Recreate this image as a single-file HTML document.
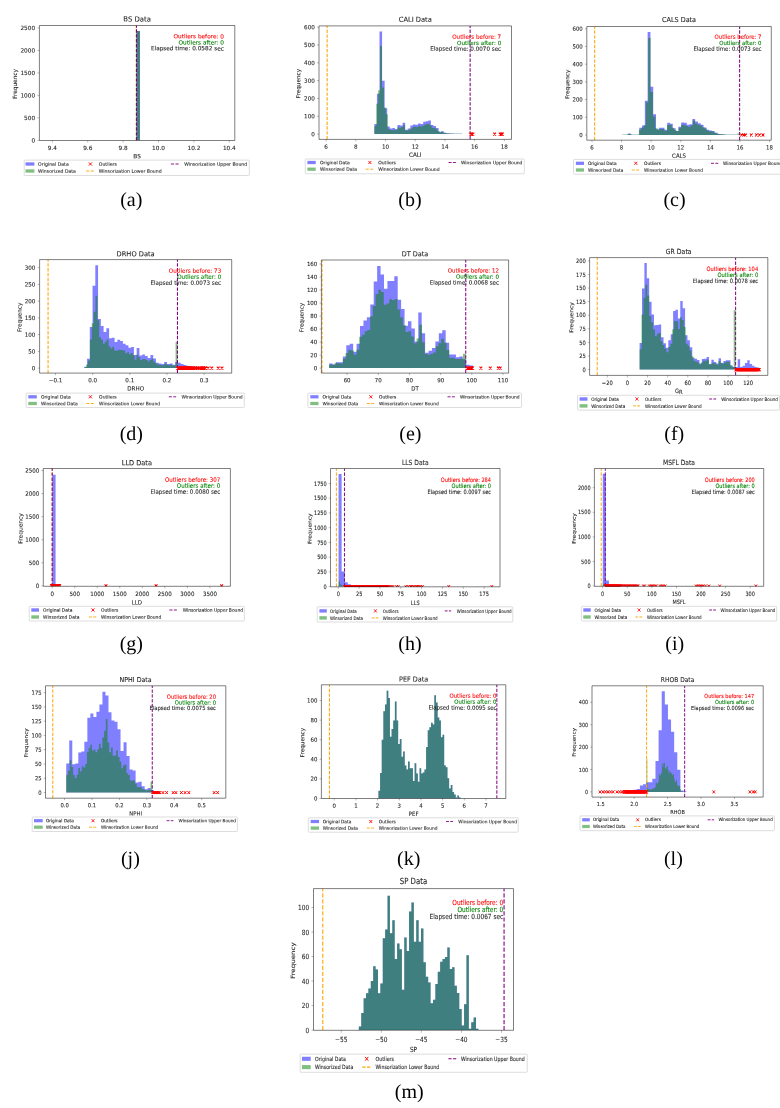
<!DOCTYPE html>
<html lang="en"><head><meta charset="utf-8"><title>Winsorization histograms</title>
<style>
html,body{margin:0;padding:0;background:#fff}
body{width:780px;height:1108px;overflow:hidden}
svg{display:block;font-family:"DejaVu Sans","Liberation Sans",sans-serif;text-rendering:geometricPrecision}
text{stroke-width:.1px}
.cap{stroke:none}
</style></head><body>
<svg width="780" height="1108" viewBox="0 0 780 1108">
<defs><filter id="soft" x="0" y="0" width="780" height="1108" filterUnits="userSpaceOnUse" color-interpolation-filters="sRGB"><feGaussianBlur stdDeviation="0.42"/></filter></defs>
<rect width="780" height="1108" fill="#fff"/>
<g filter="url(#soft)">
<g id="panel-a">
<clipPath id="ca"><rect x="39.4" y="25.5" width="195.4" height="115"/></clipPath>
<g clip-path="url(#ca)">
<path d="M136.4 140.3V30.92H139.94V140.3Z" fill="#0000ff" fill-opacity=".5"/>
<path d="M136.4 140.3V30.92H139.94V140.3Z" fill="#008000" fill-opacity=".5"/>
<path d="M136.31 140.5V25.5" stroke="#ffa500" stroke-width="1.10" stroke-dasharray="3.40 1.50" fill="none"/>
<path d="M136.49 140.5V25.5" stroke="#800080" stroke-width="1.10" stroke-dasharray="3.40 1.50" fill="none"/>
</g>
<path d="M39.4 25.5H234.8V140.5H39.4Z" stroke="#000" stroke-opacity=".5" stroke-width="1" fill="none"/>
<path d="M52.35 140.5v2M87.74 140.5v2M123.13 140.5v2M158.52 140.5v2M193.91 140.5v2M229.3 140.5v2M39.4 140.3h-2M39.4 117.84h-2M39.4 95.38h-2M39.4 72.92h-2M39.4 50.46h-2M39.4 28h-2" stroke="#000" stroke-opacity=".5" stroke-width=".55" fill="none"/>
<text transform="translate(52.35 149.88) rotate(0.03) scale(1.000 1)" font-size="5.77" text-anchor="middle" fill="#262626" stroke="#262626">9.4</text>
<text transform="translate(87.74 149.88) rotate(0.03) scale(1.000 1)" font-size="5.77" text-anchor="middle" fill="#262626" stroke="#262626">9.6</text>
<text transform="translate(123.13 149.88) rotate(0.03) scale(1.000 1)" font-size="5.77" text-anchor="middle" fill="#262626" stroke="#262626">9.8</text>
<text transform="translate(158.52 149.88) rotate(0.03) scale(1.000 1)" font-size="5.77" text-anchor="middle" fill="#262626" stroke="#262626">10.0</text>
<text transform="translate(193.91 149.88) rotate(0.03) scale(1.000 1)" font-size="5.77" text-anchor="middle" fill="#262626" stroke="#262626">10.2</text>
<text transform="translate(229.3 149.88) rotate(0.03) scale(1.000 1)" font-size="5.77" text-anchor="middle" fill="#262626" stroke="#262626">10.4</text>
<text transform="translate(35.1 142.38) rotate(0.03) scale(1.000 1)" font-size="5.77" text-anchor="end" fill="#262626" stroke="#262626">0</text>
<text transform="translate(35.1 119.92) rotate(0.03) scale(1.000 1)" font-size="5.77" text-anchor="end" fill="#262626" stroke="#262626">500</text>
<text transform="translate(35.1 97.46) rotate(0.03) scale(1.000 1)" font-size="5.77" text-anchor="end" fill="#262626" stroke="#262626">1000</text>
<text transform="translate(35.1 75) rotate(0.03) scale(1.000 1)" font-size="5.77" text-anchor="end" fill="#262626" stroke="#262626">1500</text>
<text transform="translate(35.1 52.54) rotate(0.03) scale(1.000 1)" font-size="5.77" text-anchor="end" fill="#262626" stroke="#262626">2000</text>
<text transform="translate(35.1 30.08) rotate(0.03) scale(1.000 1)" font-size="5.77" text-anchor="end" fill="#262626" stroke="#262626">2500</text>
<text transform="translate(137.1 158.18) rotate(0.03) scale(1.000 1)" font-size="5.77" text-anchor="middle" fill="#262626" stroke="#262626">BS</text>
<text transform="translate(17.08 84) rotate(-89.97) scale(1.000 1)" font-size="5.77" text-anchor="middle" fill="#262626" stroke="#262626">Frequency</text>
<text transform="translate(137.1 21.38) rotate(0.03) scale(1.000 1)" font-size="6.9" text-anchor="middle" fill="#262626" stroke="#262626">BS Data</text>
<text transform="translate(223.9 38.38) rotate(0.03) scale(1.000 1)" font-size="5.77" text-anchor="end" fill="#ff0000" stroke="#ff0000">Outliers before: 0</text>
<text transform="translate(223.9 44.58) rotate(0.03) scale(1.000 1)" font-size="5.77" text-anchor="end" fill="#008000" stroke="#008000">Outliers after: 0</text>
<text transform="translate(223.9 50.38) rotate(0.03) scale(1.000 1)" font-size="5.77" text-anchor="end" fill="#262626" stroke="#262626">Elapsed time: 0.0582 sec</text>
<rect x="24.2" y="160.1" width="225.1" height="15.4" rx=".8" fill="#fff" stroke="#d2d2d2" stroke-width=".75"/>
<rect x="25.5" y="162.35" width="8.9" height="3.3" fill="#0000ff" fill-opacity=".5"/>
<rect x="25.5" y="169.35" width="8.9" height="3.3" fill="#008000" fill-opacity=".5"/>
<text transform="translate(38.1 165.67) rotate(0.03) scale(1.000 1)" font-size="4.64" text-anchor="start" fill="#262626" stroke="#262626">Original Data</text>
<text transform="translate(38.1 172.67) rotate(0.03) scale(1.000 1)" font-size="4.64" text-anchor="start" fill="#262626" stroke="#262626">Winsorized Data</text>
<path d="M88.85 162.45l3.1 3.1m-3.1 0l3.1 -3.1" stroke="#ff0000" stroke-width="0.95" fill="none"/>
<path d="M86.1 171H94.7" stroke="#ffa500" stroke-width="0.90" stroke-dasharray="3.20 1.40" fill="none"/>
<text transform="translate(98.8 165.67) rotate(0.03) scale(1.000 1)" font-size="4.64" text-anchor="start" fill="#262626" stroke="#262626">Outliers</text>
<text transform="translate(98.8 172.67) rotate(0.03) scale(1.000 1)" font-size="4.64" text-anchor="start" fill="#262626" stroke="#262626">Winsorization Lower Bound</text>
<path d="M170.9 164H179.5" stroke="#800080" stroke-width="0.90" stroke-dasharray="3.20 1.40" fill="none"/>
<text transform="translate(184.2 165.67) rotate(0.03) scale(1.000 1)" font-size="4.64" text-anchor="start" fill="#262626" stroke="#262626">Winsorization Upper Bound</text>
<text x="131.3" y="206" class="cap" font-size="20" text-anchor="middle" fill="#000" font-family='"Liberation Serif","DejaVu Serif",serif'>(a)</text>
</g>
<g id="panel-b">
<clipPath id="cb"><rect x="319" y="25.9" width="192.5" height="113.5"/></clipPath>
<g clip-path="url(#cb)">
<path d="M374.36 134.1V123.94H376.93V93.83H379.5V31.48H382.07V80.83H384.64V108.27H387.21V126.44H389.78V128.58H392.35V128.04H394.91V129.11H397.48V125.01H400.05V125.55H402.62V122.7H405.19V129.65H407.76V128.58H410.33V125.55H412.9V124.48H415.47V124.84H418.04V123.41H420.61V123.94H423.17V121.81H425.74V121.27H428.31V120.38H430.88V125.01H433.45V126.08H436.02V128.04H438.59V131.78H441.16V131.25H443.73V132.67H446.3V133.21H448.86V133.39H451.43V133.57H454V133.74H456.57V133.74H459.14V133.74H461.71V133.92H464.28V133.92H466.85V134.1ZM469.42 134.1V133.92H471.99V133.74H474.56V134.1Z" fill="#0000ff" fill-opacity=".5"/>
<path d="M374.36 134.1V126.08H376.28V103.81H378.19V90.27H380.11V46.09H382.03V87.6H383.94V107.38H385.86V114.15H387.77V128.74H389.69V129.91H391.6V129.92H393.52V130.08H395.43V130.13H397.35V127.35H399.27V127.69H401.18V126.93H403.1V125.25H405.01V130.56H406.93V130.39H408.84V129.6H410.76V128.13H412.68V126.78H414.59V126.71H416.51V126.99H418.42V125.76H420.34V126.43H422.25V125.81H424.17V124.77H426.09V124.12H428V124.31H429.92V125.57H431.83V127.8H433.75V128.09H435.66V129.18H437.58V130.94H439.49V132.42H441.41V131.86H443.33V132.77H445.24V133.18H447.16V133.48H449.07V133.53H450.99V133.67H452.9V133.77H454.82V133.84H456.74V133.85H458.65V133.82H460.57V133.87H462.48V133.96H464.4V133.96H466.31V134.06H468.23V133.57H470.14V134.1Z" fill="#008000" fill-opacity=".5"/>
<path d="M327.14 139.4V25.9" stroke="#ffa500" stroke-width="1.07" stroke-dasharray="3.36 1.48" fill="none"/>
<path d="M470.14 139.4V25.9" stroke="#800080" stroke-width="1.07" stroke-dasharray="3.36 1.48" fill="none"/>
<path d="M469.48 132.62l2.82 2.96m-2.82 0l2.82 -2.96M470.22 132.62l2.82 2.96m-2.82 0l2.82 -2.96M471.41 132.62l2.82 2.96m-2.82 0l2.82 -2.96M493.24 132.62l2.82 2.96m-2.82 0l2.82 -2.96M498.73 132.62l2.82 2.96m-2.82 0l2.82 -2.96M499.92 132.62l2.82 2.96m-2.82 0l2.82 -2.96M500.96 132.62l2.82 2.96m-2.82 0l2.82 -2.96" stroke="#ff0000" stroke-width="1.07" fill="none"/>
</g>
<path d="M319 25.9H511.5V139.4H319Z" stroke="#000" stroke-opacity=".5" stroke-width="1" fill="none"/>
<path d="M326.1 139.4v1.97M355.8 139.4v1.97M385.5 139.4v1.97M415.2 139.4v1.97M444.9 139.4v1.97M474.6 139.4v1.97M504.3 139.4v1.97M319 134.1h-1.95M319 116.28h-1.95M319 98.47h-1.95M319 80.65h-1.95M319 62.83h-1.95M319 45.02h-1.95M319 27.2h-1.95" stroke="#000" stroke-opacity=".5" stroke-width=".55" fill="none"/>
<text transform="translate(326.1 148.66) rotate(0.03) scale(0.986 1)" font-size="5.69" text-anchor="middle" fill="#262626" stroke="#262626">6</text>
<text transform="translate(355.8 148.66) rotate(0.03) scale(0.986 1)" font-size="5.69" text-anchor="middle" fill="#262626" stroke="#262626">8</text>
<text transform="translate(385.5 148.66) rotate(0.03) scale(0.986 1)" font-size="5.69" text-anchor="middle" fill="#262626" stroke="#262626">10</text>
<text transform="translate(415.2 148.66) rotate(0.03) scale(0.986 1)" font-size="5.69" text-anchor="middle" fill="#262626" stroke="#262626">12</text>
<text transform="translate(444.9 148.66) rotate(0.03) scale(0.986 1)" font-size="5.69" text-anchor="middle" fill="#262626" stroke="#262626">14</text>
<text transform="translate(474.6 148.66) rotate(0.03) scale(0.986 1)" font-size="5.69" text-anchor="middle" fill="#262626" stroke="#262626">16</text>
<text transform="translate(504.3 148.66) rotate(0.03) scale(0.986 1)" font-size="5.69" text-anchor="middle" fill="#262626" stroke="#262626">18</text>
<text transform="translate(314.82 136.15) rotate(0.03) scale(0.986 1)" font-size="5.69" text-anchor="end" fill="#262626" stroke="#262626">0</text>
<text transform="translate(314.82 118.33) rotate(0.03) scale(0.986 1)" font-size="5.69" text-anchor="end" fill="#262626" stroke="#262626">100</text>
<text transform="translate(314.82 100.52) rotate(0.03) scale(0.986 1)" font-size="5.69" text-anchor="end" fill="#262626" stroke="#262626">200</text>
<text transform="translate(314.82 82.7) rotate(0.03) scale(0.986 1)" font-size="5.69" text-anchor="end" fill="#262626" stroke="#262626">300</text>
<text transform="translate(314.82 64.88) rotate(0.03) scale(0.986 1)" font-size="5.69" text-anchor="end" fill="#262626" stroke="#262626">400</text>
<text transform="translate(314.82 47.07) rotate(0.03) scale(0.986 1)" font-size="5.69" text-anchor="end" fill="#262626" stroke="#262626">500</text>
<text transform="translate(314.82 29.25) rotate(0.03) scale(0.986 1)" font-size="5.69" text-anchor="end" fill="#262626" stroke="#262626">600</text>
<text transform="translate(415.25 156.85) rotate(0.03) scale(0.986 1)" font-size="5.69" text-anchor="middle" fill="#262626" stroke="#262626">CALI</text>
<text transform="translate(300.32 83.64) rotate(-89.97) scale(1.014 1)" font-size="5.61" text-anchor="middle" fill="#262626" stroke="#262626">Frequency</text>
<text transform="translate(415.25 21.85) rotate(0.03) scale(0.986 1)" font-size="6.81" text-anchor="middle" fill="#262626" stroke="#262626">CALI Data</text>
<text transform="translate(501.2 38.85) rotate(0.03) scale(0.986 1)" font-size="5.69" text-anchor="end" fill="#ff0000" stroke="#ff0000">Outliers before: 7</text>
<text transform="translate(501.2 44.95) rotate(0.03) scale(0.986 1)" font-size="5.69" text-anchor="end" fill="#008000" stroke="#008000">Outliers after: 0</text>
<text transform="translate(501.2 50.65) rotate(0.03) scale(0.986 1)" font-size="5.69" text-anchor="end" fill="#262626" stroke="#262626">Elapsed time: 0.0070 sec</text>
<rect x="305.2" y="159" width="219.1" height="14.8" rx=".8" fill="#fff" stroke="#d2d2d2" stroke-width=".75"/>
<rect x="307.4" y="160.87" width="8.3" height="3.26" fill="#0000ff" fill-opacity=".5"/>
<rect x="307.4" y="167.57" width="8.3" height="3.26" fill="#008000" fill-opacity=".5"/>
<text transform="translate(320 164.15) rotate(0.03) scale(0.986 1)" font-size="4.58" text-anchor="start" fill="#262626" stroke="#262626">Original Data</text>
<text transform="translate(320 170.85) rotate(0.03) scale(0.986 1)" font-size="4.58" text-anchor="start" fill="#262626" stroke="#262626">Winsorized Data</text>
<path d="M368.39 160.97l3.02 3.06m-3.02 0l3.02 -3.06" stroke="#ff0000" stroke-width="0.92" fill="none"/>
<path d="M365.72 169.2H374.08" stroke="#ffa500" stroke-width="0.89" stroke-dasharray="3.11 1.36" fill="none"/>
<text transform="translate(378.2 164.15) rotate(0.03) scale(0.986 1)" font-size="4.58" text-anchor="start" fill="#262626" stroke="#262626">Outliers</text>
<text transform="translate(378.2 170.85) rotate(0.03) scale(0.986 1)" font-size="4.58" text-anchor="start" fill="#262626" stroke="#262626">Winsorization Lower Bound</text>
<path d="M448.5 162.5H455.9" stroke="#800080" stroke-width="0.89" stroke-dasharray="3.11 1.36" fill="none"/>
<text transform="translate(461 164.15) rotate(0.03) scale(0.986 1)" font-size="4.58" text-anchor="start" fill="#262626" stroke="#262626">Winsorization Upper Bound</text>
<text x="409.9" y="206" class="cap" font-size="20" text-anchor="middle" fill="#000" font-family='"Liberation Serif","DejaVu Serif",serif'>(b)</text>
</g>
<g id="panel-c">
<clipPath id="cc"><rect x="586.8" y="26.5" width="184.5" height="113.7"/></clipPath>
<g clip-path="url(#cc)">
<path d="M622.47 135V134.65H625.27V134.65H628.06V133.41H630.86V134.65H633.65V134.65H636.45V134.65H639.24V127.74H642.04V125.61H644.84V100.81H647.63V32.07H650.43V86.81H653.22V114.27H656.02V129.33H658.81V127.74H661.61V127.74H664.41V129.86H667.2V122.78H670V123.66H672.79V128.27H675.59V130.93H678.38V126.67H681.18V122.6H683.97V122.78H686.77V124.72H689.57V124.19H692.36V118.88H695.16V121.54H697.95V123.13H700.75V124.72H703.54V127.38H706.34V129.69H709.14V130.39H711.93V131.1H714.73V132.87H717.52V133.94H720.32V134.29H723.11V134.47H725.91V134.65H728.7V134.82H731.5V134.82H734.3V134.82H737.09V135ZM739.89 135V134.82H742.68V135Z" fill="#0000ff" fill-opacity=".5"/>
<path d="M622.47 135V134.71H624.81V134.72H627.16V134.11H629.5V134.13H631.84V134.69H634.19V134.71H636.53V134.71H638.87V129.7H641.21V127.72H643.56V125.26H645.9V102.22H648.24V38.09H650.59V91.95H652.93V116.4H655.27V128.27H657.62V129.69H659.96V129.01H662.3V128.94H664.64V130.9H666.99V125.08H669.33V124.81H671.67V127.68H674.02V129.78H676.36V131.08H678.7V127.75H681.05V124.84H683.39V124.86H685.73V125.97H688.07V126.83H690.42V125.59H692.76V120.56H695.1V123.61H697.45V124.82H699.79V125.33H702.13V127.16H704.48V128.61H706.82V130.64H709.16V131.29H711.5V131.43H713.85V132.77H716.19V133.55H718.53V134.17H720.88V134.37H723.22V134.53H725.56V134.67H727.91V134.81H730.25V134.86H732.59V134.85H734.93V134.86H737.28V133.58H739.62V135Z" fill="#008000" fill-opacity=".5"/>
<path d="M594.66 140.2V26.5" stroke="#ffa500" stroke-width="1.03" stroke-dasharray="3.36 1.48" fill="none"/>
<path d="M739.62 140.2V26.5" stroke="#800080" stroke-width="1.03" stroke-dasharray="3.36 1.48" fill="none"/>
<path d="M740.34 133.52l2.71 2.96m-2.71 0l2.71 -2.96M742.41 133.52l2.71 2.96m-2.71 0l2.71 -2.96M744.33 133.52l2.71 2.96m-2.71 0l2.71 -2.96M749.95 133.52l2.71 2.96m-2.71 0l2.71 -2.96M755.13 133.52l2.71 2.96m-2.71 0l2.71 -2.96M758.24 133.52l2.71 2.96m-2.71 0l2.71 -2.96M761.64 133.52l2.71 2.96m-2.71 0l2.71 -2.96" stroke="#ff0000" stroke-width="1.03" fill="none"/>
</g>
<path d="M586.8 26.5H771.3V140.2H586.8Z" stroke="#000" stroke-opacity=".5" stroke-width="1" fill="none"/>
<path d="M592 140.2v1.98M621.58 140.2v1.98M651.17 140.2v1.98M680.75 140.2v1.98M710.33 140.2v1.98M739.92 140.2v1.98M769.5 140.2v1.98M586.8 135h-1.87M586.8 117.28h-1.87M586.8 99.57h-1.87M586.8 81.85h-1.87M586.8 64.13h-1.87M586.8 46.42h-1.87M586.8 28.7h-1.87" stroke="#000" stroke-opacity=".5" stroke-width=".55" fill="none"/>
<text transform="translate(592 149.46) rotate(0.03) scale(0.945 1)" font-size="5.7" text-anchor="middle" fill="#262626" stroke="#262626">6</text>
<text transform="translate(621.58 149.46) rotate(0.03) scale(0.945 1)" font-size="5.7" text-anchor="middle" fill="#262626" stroke="#262626">8</text>
<text transform="translate(651.17 149.46) rotate(0.03) scale(0.945 1)" font-size="5.7" text-anchor="middle" fill="#262626" stroke="#262626">10</text>
<text transform="translate(680.75 149.46) rotate(0.03) scale(0.945 1)" font-size="5.7" text-anchor="middle" fill="#262626" stroke="#262626">12</text>
<text transform="translate(710.33 149.46) rotate(0.03) scale(0.945 1)" font-size="5.7" text-anchor="middle" fill="#262626" stroke="#262626">14</text>
<text transform="translate(739.92 149.46) rotate(0.03) scale(0.945 1)" font-size="5.7" text-anchor="middle" fill="#262626" stroke="#262626">16</text>
<text transform="translate(769.5 149.46) rotate(0.03) scale(0.945 1)" font-size="5.7" text-anchor="middle" fill="#262626" stroke="#262626">18</text>
<text transform="translate(582.78 137.05) rotate(0.03) scale(0.945 1)" font-size="5.7" text-anchor="end" fill="#262626" stroke="#262626">0</text>
<text transform="translate(582.78 119.34) rotate(0.03) scale(0.945 1)" font-size="5.7" text-anchor="end" fill="#262626" stroke="#262626">100</text>
<text transform="translate(582.78 101.62) rotate(0.03) scale(0.945 1)" font-size="5.7" text-anchor="end" fill="#262626" stroke="#262626">200</text>
<text transform="translate(582.78 83.9) rotate(0.03) scale(0.945 1)" font-size="5.7" text-anchor="end" fill="#262626" stroke="#262626">300</text>
<text transform="translate(582.78 66.19) rotate(0.03) scale(0.945 1)" font-size="5.7" text-anchor="end" fill="#262626" stroke="#262626">400</text>
<text transform="translate(582.78 48.47) rotate(0.03) scale(0.945 1)" font-size="5.7" text-anchor="end" fill="#262626" stroke="#262626">500</text>
<text transform="translate(582.78 30.75) rotate(0.03) scale(0.945 1)" font-size="5.7" text-anchor="end" fill="#262626" stroke="#262626">600</text>
<text transform="translate(679.05 157.67) rotate(0.03) scale(0.945 1)" font-size="5.7" text-anchor="middle" fill="#262626" stroke="#262626">CALS</text>
<text transform="translate(569.14 84.34) rotate(-89.97) scale(1.058 1)" font-size="5.39" text-anchor="middle" fill="#262626" stroke="#262626">Frequency</text>
<text transform="translate(679.05 22.05) rotate(0.03) scale(0.945 1)" font-size="6.82" text-anchor="middle" fill="#262626" stroke="#262626">CALS Data</text>
<text transform="translate(761.5 38.85) rotate(0.03) scale(0.945 1)" font-size="5.7" text-anchor="end" fill="#ff0000" stroke="#ff0000">Outliers before: 7</text>
<text transform="translate(761.5 44.95) rotate(0.03) scale(0.945 1)" font-size="5.7" text-anchor="end" fill="#008000" stroke="#008000">Outliers after: 0</text>
<text transform="translate(761.5 50.85) rotate(0.03) scale(0.945 1)" font-size="5.7" text-anchor="end" fill="#262626" stroke="#262626">Elapsed time: 0.0073 sec</text>
<rect x="573.5" y="159.4" width="210.2" height="14.8" rx=".8" fill="#fff" stroke="#d2d2d2" stroke-width=".75"/>
<rect x="575.9" y="161.67" width="8.1" height="3.26" fill="#0000ff" fill-opacity=".5"/>
<rect x="575.9" y="168.37" width="8.1" height="3.26" fill="#008000" fill-opacity=".5"/>
<text transform="translate(587.9 164.95) rotate(0.03) scale(0.945 1)" font-size="4.58" text-anchor="start" fill="#262626" stroke="#262626">Original Data</text>
<text transform="translate(587.9 171.65) rotate(0.03) scale(0.945 1)" font-size="4.58" text-anchor="start" fill="#262626" stroke="#262626">Winsorized Data</text>
<path d="M634.35 161.77l2.9 3.06m-2.9 0l2.9 -3.06" stroke="#ff0000" stroke-width="0.89" fill="none"/>
<path d="M631.78 170H639.82" stroke="#ffa500" stroke-width="0.89" stroke-dasharray="2.99 1.31" fill="none"/>
<text transform="translate(644.1 164.95) rotate(0.03) scale(0.945 1)" font-size="4.58" text-anchor="start" fill="#262626" stroke="#262626">Outliers</text>
<text transform="translate(644.1 171.65) rotate(0.03) scale(0.945 1)" font-size="4.58" text-anchor="start" fill="#262626" stroke="#262626">Winsorization Lower Bound</text>
<path d="M711 163.3H718.4" stroke="#800080" stroke-width="0.89" stroke-dasharray="2.99 1.31" fill="none"/>
<text transform="translate(723 164.95) rotate(0.03) scale(0.945 1)" font-size="4.58" text-anchor="start" fill="#262626" stroke="#262626">Winsorization Upper Bound</text>
<text x="674.5" y="206" class="cap" font-size="20" text-anchor="middle" fill="#000" font-family='"Liberation Serif","DejaVu Serif",serif'>(c)</text>
</g>
<g id="panel-d">
<clipPath id="cd"><rect x="39.6" y="259.6" width="192.1" height="113.5"/></clipPath>
<g clip-path="url(#cd)">
<path d="M84.29 368.1V366.76H87.05V358.73H89.8V326.94H92.56V285.77H95.32V265.36H98.07V318.9H100.83V325.93H103.59V331.96H106.34V328.27H109.1V338.31H111.86V337.65H114.61V342H117.37V339.65H120.13V340.99H122.88V343.67H125.64V345.34H128.4V347.69H131.15V347.02H133.91V355.05H136.67V348.02H139.42V355.38H142.18V354.38H144.93V356.05H147.69V358.06H150.45V355.05H153.2V358.39H155.96V362.75H158.72V363.41H161.47V364.08H164.23V362.08H166.99V364.08H169.74V363.41H172.5V364.75H175.26V362.08H178.01V362.75H180.77V364.08H183.53V365.09H186.28V365.76H189.04V366.09H191.8V366.43H194.55V366.76H197.31V367.1H200.07V367.1H202.82V368.1Z" fill="#0000ff" fill-opacity=".5"/>
<path d="M84.29 368.1V367.24H86.15V364.39H88.02V360.6H89.88V339.47H91.75V323.22H93.61V311.83H95.47V295.73H97.34V320.28H99.2V337.35H101.06V339.77H102.93V343.86H104.79V341.75H106.65V339.49H108.52V346.35H110.38V348.41H112.24V346.74H114.11V350.42H115.97V350.87H117.83V349.71H119.7V349.96H121.56V349.99H123.42V350.51H125.29V353.13H127.15V352.29H129.01V354.19H130.88V353.12H132.74V355.33H134.6V359.7H136.47V354.76H138.33V357.2H140.19V360.1H142.06V359H143.92V359H145.78V359.88H147.65V361.57H149.51V359.93H151.38V358.81H153.24V361.78H155.1V363.16H156.97V364.44H158.83V364.75H160.69V365.35H162.56V365.23H164.42V363.76H166.28V364.82H168.15V365.24H170.01V364.81H171.87V365.53H173.74V365.58H175.6V341.66H177.46V368.1Z" fill="#008000" fill-opacity=".5"/>
<path d="M48.07 373.1V259.6" stroke="#ffa500" stroke-width="1.07" stroke-dasharray="3.36 1.48" fill="none"/>
<path d="M177.46 373.1V259.6" stroke="#800080" stroke-width="1.07" stroke-dasharray="3.36 1.48" fill="none"/>
<path d="M176.32 366.62l2.81 2.96m-2.81 0l2.81 -2.96M176.61 366.62l2.81 2.96m-2.81 0l2.81 -2.96M176.91 366.62l2.81 2.96m-2.81 0l2.81 -2.96M177.21 366.62l2.81 2.96m-2.81 0l2.81 -2.96M177.5 366.62l2.81 2.96m-2.81 0l2.81 -2.96M177.8 366.62l2.81 2.96m-2.81 0l2.81 -2.96M178.09 366.62l2.81 2.96m-2.81 0l2.81 -2.96M178.39 366.62l2.81 2.96m-2.81 0l2.81 -2.96M178.68 366.62l2.81 2.96m-2.81 0l2.81 -2.96M178.98 366.62l2.81 2.96m-2.81 0l2.81 -2.96M179.28 366.62l2.81 2.96m-2.81 0l2.81 -2.96M179.57 366.62l2.81 2.96m-2.81 0l2.81 -2.96M179.87 366.62l2.81 2.96m-2.81 0l2.81 -2.96M180.16 366.62l2.81 2.96m-2.81 0l2.81 -2.96M180.46 366.62l2.81 2.96m-2.81 0l2.81 -2.96M180.75 366.62l2.81 2.96m-2.81 0l2.81 -2.96M181.05 366.62l2.81 2.96m-2.81 0l2.81 -2.96M181.35 366.62l2.81 2.96m-2.81 0l2.81 -2.96M181.64 366.62l2.81 2.96m-2.81 0l2.81 -2.96M181.94 366.62l2.81 2.96m-2.81 0l2.81 -2.96M182.23 366.62l2.81 2.96m-2.81 0l2.81 -2.96M182.53 366.62l2.81 2.96m-2.81 0l2.81 -2.96M182.82 366.62l2.81 2.96m-2.81 0l2.81 -2.96M183.12 366.62l2.81 2.96m-2.81 0l2.81 -2.96M183.41 366.62l2.81 2.96m-2.81 0l2.81 -2.96M183.71 366.62l2.81 2.96m-2.81 0l2.81 -2.96M184.01 366.62l2.81 2.96m-2.81 0l2.81 -2.96M184.3 366.62l2.81 2.96m-2.81 0l2.81 -2.96M184.6 366.62l2.81 2.96m-2.81 0l2.81 -2.96M184.89 366.62l2.81 2.96m-2.81 0l2.81 -2.96M185.19 366.62l2.81 2.96m-2.81 0l2.81 -2.96M185.48 366.62l2.81 2.96m-2.81 0l2.81 -2.96M185.78 366.62l2.81 2.96m-2.81 0l2.81 -2.96M186.08 366.62l2.81 2.96m-2.81 0l2.81 -2.96M186.37 366.62l2.81 2.96m-2.81 0l2.81 -2.96M186.67 366.62l2.81 2.96m-2.81 0l2.81 -2.96M186.96 366.62l2.81 2.96m-2.81 0l2.81 -2.96M187.26 366.62l2.81 2.96m-2.81 0l2.81 -2.96M187.55 366.62l2.81 2.96m-2.81 0l2.81 -2.96M187.85 366.62l2.81 2.96m-2.81 0l2.81 -2.96M188.15 366.62l2.81 2.96m-2.81 0l2.81 -2.96M188.44 366.62l2.81 2.96m-2.81 0l2.81 -2.96M188.74 366.62l2.81 2.96m-2.81 0l2.81 -2.96M189.03 366.62l2.81 2.96m-2.81 0l2.81 -2.96M189.33 366.62l2.81 2.96m-2.81 0l2.81 -2.96M189.62 366.62l2.81 2.96m-2.81 0l2.81 -2.96M189.92 366.62l2.81 2.96m-2.81 0l2.81 -2.96M190.22 366.62l2.81 2.96m-2.81 0l2.81 -2.96M190.51 366.62l2.81 2.96m-2.81 0l2.81 -2.96M190.81 366.62l2.81 2.96m-2.81 0l2.81 -2.96M192.11 366.62l2.81 2.96m-2.81 0l2.81 -2.96M193.59 366.62l2.81 2.96m-2.81 0l2.81 -2.96M194.52 366.62l2.81 2.96m-2.81 0l2.81 -2.96M196.19 366.62l2.81 2.96m-2.81 0l2.81 -2.96M197.68 366.62l2.81 2.96m-2.81 0l2.81 -2.96M198.61 366.62l2.81 2.96m-2.81 0l2.81 -2.96M199.91 366.62l2.81 2.96m-2.81 0l2.81 -2.96M201.39 366.62l2.81 2.96m-2.81 0l2.81 -2.96M202.69 366.62l2.81 2.96m-2.81 0l2.81 -2.96M204 366.62l2.81 2.96m-2.81 0l2.81 -2.96M206.63 366.62l2.81 2.96m-2.81 0l2.81 -2.96M210.35 366.62l2.81 2.96m-2.81 0l2.81 -2.96M216.81 366.62l2.81 2.96m-2.81 0l2.81 -2.96M220.53 366.62l2.81 2.96m-2.81 0l2.81 -2.96" stroke="#ff0000" stroke-width="1.07" fill="none"/>
</g>
<path d="M39.6 259.6H231.7V373.1H39.6Z" stroke="#000" stroke-opacity=".5" stroke-width="1" fill="none"/>
<path d="M55.5 373.1v1.97M92.65 373.1v1.97M129.8 373.1v1.97M166.95 373.1v1.97M204.1 373.1v1.97M39.6 368.1h-1.94M39.6 351.37h-1.94M39.6 334.63h-1.94M39.6 317.9h-1.94M39.6 301.17h-1.94M39.6 284.43h-1.94M39.6 267.7h-1.94" stroke="#000" stroke-opacity=".5" stroke-width=".55" fill="none"/>
<text transform="translate(55.5 382.36) rotate(0.03) scale(0.982 1)" font-size="5.69" text-anchor="middle" fill="#262626" stroke="#262626">−0.1</text>
<text transform="translate(92.65 382.36) rotate(0.03) scale(0.982 1)" font-size="5.69" text-anchor="middle" fill="#262626" stroke="#262626">0.0</text>
<text transform="translate(129.8 382.36) rotate(0.03) scale(0.982 1)" font-size="5.69" text-anchor="middle" fill="#262626" stroke="#262626">0.1</text>
<text transform="translate(166.95 382.36) rotate(0.03) scale(0.982 1)" font-size="5.69" text-anchor="middle" fill="#262626" stroke="#262626">0.2</text>
<text transform="translate(204.1 382.36) rotate(0.03) scale(0.982 1)" font-size="5.69" text-anchor="middle" fill="#262626" stroke="#262626">0.3</text>
<text transform="translate(35.43 370.15) rotate(0.03) scale(0.982 1)" font-size="5.69" text-anchor="end" fill="#262626" stroke="#262626">0</text>
<text transform="translate(35.43 353.42) rotate(0.03) scale(0.982 1)" font-size="5.69" text-anchor="end" fill="#262626" stroke="#262626">50</text>
<text transform="translate(35.43 336.68) rotate(0.03) scale(0.982 1)" font-size="5.69" text-anchor="end" fill="#262626" stroke="#262626">100</text>
<text transform="translate(35.43 319.95) rotate(0.03) scale(0.982 1)" font-size="5.69" text-anchor="end" fill="#262626" stroke="#262626">150</text>
<text transform="translate(35.43 303.22) rotate(0.03) scale(0.982 1)" font-size="5.69" text-anchor="end" fill="#262626" stroke="#262626">200</text>
<text transform="translate(35.43 286.48) rotate(0.03) scale(0.982 1)" font-size="5.69" text-anchor="end" fill="#262626" stroke="#262626">250</text>
<text transform="translate(35.43 269.75) rotate(0.03) scale(0.982 1)" font-size="5.69" text-anchor="end" fill="#262626" stroke="#262626">300</text>
<text transform="translate(135.65 390.55) rotate(0.03) scale(0.982 1)" font-size="5.69" text-anchor="middle" fill="#262626" stroke="#262626">DRHO</text>
<text transform="translate(21.61 317.34) rotate(-89.97) scale(1.019 1)" font-size="5.59" text-anchor="middle" fill="#262626" stroke="#262626">Frequency</text>
<text transform="translate(135.65 256.35) rotate(0.03) scale(0.982 1)" font-size="6.81" text-anchor="middle" fill="#262626" stroke="#262626">DRHO Data</text>
<text transform="translate(221.2 272.75) rotate(0.03) scale(0.982 1)" font-size="5.69" text-anchor="end" fill="#ff0000" stroke="#ff0000">Outliers before: 73</text>
<text transform="translate(221.2 278.85) rotate(0.03) scale(0.982 1)" font-size="5.69" text-anchor="end" fill="#008000" stroke="#008000">Outliers after: 0</text>
<text transform="translate(221.2 284.75) rotate(0.03) scale(0.982 1)" font-size="5.69" text-anchor="end" fill="#262626" stroke="#262626">Elapsed time: 0.0073 sec</text>
<rect x="26.1" y="393.1" width="218.2" height="14.4" rx=".8" fill="#fff" stroke="#d2d2d2" stroke-width=".75"/>
<rect x="28.3" y="395.17" width="8.5" height="3.26" fill="#0000ff" fill-opacity=".5"/>
<rect x="28.3" y="401.87" width="8.5" height="3.26" fill="#008000" fill-opacity=".5"/>
<text transform="translate(40.9 398.45) rotate(0.03) scale(0.982 1)" font-size="4.58" text-anchor="start" fill="#262626" stroke="#262626">Original Data</text>
<text transform="translate(40.9 405.15) rotate(0.03) scale(0.982 1)" font-size="4.58" text-anchor="start" fill="#262626" stroke="#262626">Winsorized Data</text>
<path d="M88.9 395.27l3 3.06m-3 0l3 -3.06" stroke="#ff0000" stroke-width="0.92" fill="none"/>
<path d="M86.23 403.5H94.57" stroke="#ffa500" stroke-width="0.89" stroke-dasharray="3.10 1.36" fill="none"/>
<text transform="translate(99.1 398.45) rotate(0.03) scale(0.982 1)" font-size="4.58" text-anchor="start" fill="#262626" stroke="#262626">Outliers</text>
<text transform="translate(99.1 405.15) rotate(0.03) scale(0.982 1)" font-size="4.58" text-anchor="start" fill="#262626" stroke="#262626">Winsorization Lower Bound</text>
<path d="M168.8 396.8H176.2" stroke="#800080" stroke-width="0.89" stroke-dasharray="3.10 1.36" fill="none"/>
<text transform="translate(181.4 398.45) rotate(0.03) scale(0.982 1)" font-size="4.58" text-anchor="start" fill="#262626" stroke="#262626">Winsorization Upper Bound</text>
<text x="131.3" y="439.8" class="cap" font-size="20" text-anchor="middle" fill="#000" font-family='"Liberation Serif","DejaVu Serif",serif'>(d)</text>
</g>
<g id="panel-e">
<clipPath id="ce"><rect x="321.4" y="260" width="187.2" height="113.1"/></clipPath>
<g clip-path="url(#ce)">
<path d="M329.17 368.1V363.55H332.6V364.2H336.02V362.24H339.45V362.24H342.88V356.39H346.3V345.33H349.73V343.7H353.16V351.83H356.58V343.7H360.01V326.07H363.44V320.6H366.87V317.35H370.29V304.6H373.72V281.57H377.15V265.95H380.57V274.41H384V288.72H387.43V280.92H390.85V280.92H394.28V276.36H397.71V299.78H401.13V308.89H404.56V325.81H407.99V321.25H411.41V328.41H414.84V341.42H418.27V312.41H421.69V333.29H425.12V352.75H428.55V350.86H431.97V347.93H435.4V341.42H438.83V333.29H442.25V330.36H445.68V342.73H449.11V354.44H452.53V354.44H455.96V357.36H459.39V356.39H462.81V359.25H466.24V364.85H469.67V365.5H473.09V368.1ZM497.08 368.1V366.8H500.51V368.1Z" fill="#0000ff" fill-opacity=".5"/>
<path d="M329.17 368.1V364.43H331.9V364.99H334.63V362.73H337.37V363.16H340.1V363.45H342.83V358.64H345.56V352.98H348.29V350.07H351.02V350.6H353.75V354.79H356.49V349.66H359.22V336.75H361.95V334.75H364.68V331.37H367.41V329.98H370.14V316.15H372.87V305.99H375.6V293.99H378.34V289.86H381.07V291.98H383.8V304.86H386.53V303.4H389.26V299.29H391.99V299.93H394.72V298.96H397.46V309.4H400.19V317.14H402.92V325.33H405.65V332.03H408.38V331.31H411.11V336.39H413.84V343.33H416.58V338.42H419.31V324.82H422.04V342.27H424.77V353.95H427.5V354.87H430.23V353.83H432.96V352.57H435.69V346.23H438.43V343.14H441.16V338.69H443.89V342.71H446.62V349.98H449.35V357.7H452.08V357.87H454.81V359.03H457.55V359.06H460.28V358.64H463.01V353.79H465.74V368.1Z" fill="#008000" fill-opacity=".5"/>
<path d="M322 373.1V260" stroke="#ffa500" stroke-width="1.04" stroke-dasharray="3.34 1.47" fill="none"/>
<path d="M465.74 373.1V260" stroke="#800080" stroke-width="1.04" stroke-dasharray="3.34 1.47" fill="none"/>
<path d="M465.77 366.63l2.75 2.95m-2.75 0l2.75 -2.95M466.7 366.63l2.75 2.95m-2.75 0l2.75 -2.95M467.64 366.63l2.75 2.95m-2.75 0l2.75 -2.95M468.57 366.63l2.75 2.95m-2.75 0l2.75 -2.95M469.51 366.63l2.75 2.95m-2.75 0l2.75 -2.95M470.44 366.63l2.75 2.95m-2.75 0l2.75 -2.95M471.07 366.63l2.75 2.95m-2.75 0l2.75 -2.95M470.13 366.63l2.75 2.95m-2.75 0l2.75 -2.95M479.49 366.63l2.75 2.95m-2.75 0l2.75 -2.95M488.84 366.63l2.75 2.95m-2.75 0l2.75 -2.95M496.95 366.63l2.75 2.95m-2.75 0l2.75 -2.95M498.82 366.63l2.75 2.95m-2.75 0l2.75 -2.95" stroke="#ff0000" stroke-width="1.04" fill="none"/>
</g>
<path d="M321.4 260H508.6V373.1H321.4Z" stroke="#000" stroke-opacity=".5" stroke-width="1" fill="none"/>
<path d="M347.1 373.1v1.97M378.28 373.1v1.97M409.46 373.1v1.97M440.64 373.1v1.97M471.82 373.1v1.97M503 373.1v1.97M321.4 368.1h-1.9M321.4 355.09h-1.9M321.4 342.08h-1.9M321.4 329.06h-1.9M321.4 316.05h-1.9M321.4 303.04h-1.9M321.4 290.02h-1.9M321.4 277.01h-1.9M321.4 264h-1.9" stroke="#000" stroke-opacity=".5" stroke-width=".55" fill="none"/>
<text transform="translate(347.1 382.32) rotate(0.03) scale(0.965 1)" font-size="5.67" text-anchor="middle" fill="#262626" stroke="#262626">60</text>
<text transform="translate(378.28 382.32) rotate(0.03) scale(0.965 1)" font-size="5.67" text-anchor="middle" fill="#262626" stroke="#262626">70</text>
<text transform="translate(409.46 382.32) rotate(0.03) scale(0.965 1)" font-size="5.67" text-anchor="middle" fill="#262626" stroke="#262626">80</text>
<text transform="translate(440.64 382.32) rotate(0.03) scale(0.965 1)" font-size="5.67" text-anchor="middle" fill="#262626" stroke="#262626">90</text>
<text transform="translate(471.82 382.32) rotate(0.03) scale(0.965 1)" font-size="5.67" text-anchor="middle" fill="#262626" stroke="#262626">100</text>
<text transform="translate(503 382.32) rotate(0.03) scale(0.965 1)" font-size="5.67" text-anchor="middle" fill="#262626" stroke="#262626">110</text>
<text transform="translate(317.32 370.14) rotate(0.03) scale(0.965 1)" font-size="5.67" text-anchor="end" fill="#262626" stroke="#262626">0</text>
<text transform="translate(317.32 357.13) rotate(0.03) scale(0.965 1)" font-size="5.67" text-anchor="end" fill="#262626" stroke="#262626">20</text>
<text transform="translate(317.32 344.12) rotate(0.03) scale(0.965 1)" font-size="5.67" text-anchor="end" fill="#262626" stroke="#262626">40</text>
<text transform="translate(317.32 331.1) rotate(0.03) scale(0.965 1)" font-size="5.67" text-anchor="end" fill="#262626" stroke="#262626">60</text>
<text transform="translate(317.32 318.09) rotate(0.03) scale(0.965 1)" font-size="5.67" text-anchor="end" fill="#262626" stroke="#262626">80</text>
<text transform="translate(317.32 305.08) rotate(0.03) scale(0.965 1)" font-size="5.67" text-anchor="end" fill="#262626" stroke="#262626">100</text>
<text transform="translate(317.32 292.07) rotate(0.03) scale(0.965 1)" font-size="5.67" text-anchor="end" fill="#262626" stroke="#262626">120</text>
<text transform="translate(317.32 279.05) rotate(0.03) scale(0.965 1)" font-size="5.67" text-anchor="end" fill="#262626" stroke="#262626">140</text>
<text transform="translate(317.32 266.04) rotate(0.03) scale(0.965 1)" font-size="5.67" text-anchor="end" fill="#262626" stroke="#262626">160</text>
<text transform="translate(415 390.48) rotate(0.03) scale(0.965 1)" font-size="5.67" text-anchor="middle" fill="#262626" stroke="#262626">DT</text>
<text transform="translate(303.47 317.53) rotate(-89.97) scale(1.036 1)" font-size="5.48" text-anchor="middle" fill="#262626" stroke="#262626">Frequency</text>
<text transform="translate(415 256.34) rotate(0.03) scale(0.965 1)" font-size="6.78" text-anchor="middle" fill="#262626" stroke="#262626">DT Data</text>
<text transform="translate(498.9 272.54) rotate(0.03) scale(0.965 1)" font-size="5.67" text-anchor="end" fill="#ff0000" stroke="#ff0000">Outliers before: 12</text>
<text transform="translate(498.9 278.64) rotate(0.03) scale(0.965 1)" font-size="5.67" text-anchor="end" fill="#008000" stroke="#008000">Outliers after: 0</text>
<text transform="translate(498.9 284.54) rotate(0.03) scale(0.965 1)" font-size="5.67" text-anchor="end" fill="#262626" stroke="#262626">Elapsed time: 0.0068 sec</text>
<rect x="307.9" y="393.1" width="213.6" height="14.4" rx=".8" fill="#fff" stroke="#d2d2d2" stroke-width=".75"/>
<rect x="310.3" y="395.18" width="8.2" height="3.24" fill="#0000ff" fill-opacity=".5"/>
<rect x="310.3" y="401.88" width="8.2" height="3.24" fill="#008000" fill-opacity=".5"/>
<text transform="translate(322.4 398.44) rotate(0.03) scale(0.965 1)" font-size="4.56" text-anchor="start" fill="#262626" stroke="#262626">Original Data</text>
<text transform="translate(322.4 405.14) rotate(0.03) scale(0.965 1)" font-size="4.56" text-anchor="start" fill="#262626" stroke="#262626">Winsorized Data</text>
<path d="M369.33 395.28l2.94 3.05m-2.94 0l2.94 -3.05" stroke="#ff0000" stroke-width="0.90" fill="none"/>
<path d="M366.72 403.5H374.88" stroke="#ffa500" stroke-width="0.88" stroke-dasharray="3.04 1.33" fill="none"/>
<text transform="translate(379.1 398.44) rotate(0.03) scale(0.965 1)" font-size="4.56" text-anchor="start" fill="#262626" stroke="#262626">Outliers</text>
<text transform="translate(379.1 405.14) rotate(0.03) scale(0.965 1)" font-size="4.56" text-anchor="start" fill="#262626" stroke="#262626">Winsorization Lower Bound</text>
<path d="M447.5 396.8H454.9" stroke="#800080" stroke-width="0.88" stroke-dasharray="3.04 1.33" fill="none"/>
<text transform="translate(459.9 398.44) rotate(0.03) scale(0.965 1)" font-size="4.56" text-anchor="start" fill="#262626" stroke="#262626">Winsorization Upper Bound</text>
<text x="410.4" y="439.8" class="cap" font-size="20" text-anchor="middle" fill="#000" font-family='"Liberation Serif","DejaVu Serif",serif'>(e)</text>
</g>
<g id="panel-f">
<clipPath id="cf"><rect x="589.6" y="257.6" width="178.2" height="117.8"/></clipPath>
<g clip-path="url(#cf)">
<path d="M639.61 369.6V342.97H642V288.62H644.39V263.07H646.79V278.29H649.18V301.66H651.57V314.43H653.97V325.3H656.36V325.03H658.75V324.49H661.15V337.26H663.54V343.24H665.93V347.86H668.33V340.25H670.72V334.27H673.11V310.9H675.51V309.81H677.9V318.51H680.29V301.12H682.69V308.18H685.08V335.36H687.47V340.25H689.87V347.32H692.26V357.64H694.65V358.73H697.05V360.09H699.44V363.62H701.83V359H704.23V358.73H706.62V357.1H709.01V364.17H711.4V359.82H713.8V361.99H716.19V363.62H718.58V358.19H720.98V363.08H723.37V361.12H725.76V360.36H728.16V360.36H730.55V365.8H732.94V366.88H735.34V366.88H737.73V359.27H740.12V366.88H742.52V365.8H744.91V363.08H747.3V360.36H749.7V363.89H752.09V365.8H754.48V366.88H756.88V367.43H759.27V369.6Z" fill="#0000ff" fill-opacity=".5"/>
<path d="M639.61 369.6V349.28H641.53V314.49H643.45V297.71H645.37V284.87H647.29V295.51H649.21V315.97H651.13V322.2H653.05V329.52H654.97V336.28H656.89V333.68H658.81V332.8H660.73V341.35H662.65V344.99H664.57V348.87H666.49V352.19H668.41V346.95H670.33V343.65H672.25V329.24H674.17V320.98H676.09V321.31H678.01V328.94H679.93V317.26H681.85V319.88H683.77V327.11H685.69V343.76H687.61V345.65H689.53V350.4H691.45V356.22H693.37V360.63H695.29V361.47H697.21V362.15H699.13V364.22H701.05V362.59H702.98V360.72H704.9V360.83H706.82V359.71H708.74V364.13H710.66V363.41H712.58V362.68H714.5V363.57H716.42V364.71H718.34V361.09H720.26V362.84H722.18V363.82H724.1V362.55H726.02V361.78H727.94V361.85H729.86V364.88H731.78V366.9H733.7V310.36H735.62V369.6Z" fill="#008000" fill-opacity=".5"/>
<path d="M597.24 375.4V257.6" stroke="#ffa500" stroke-width="0.99" stroke-dasharray="3.48 1.54" fill="none"/>
<path d="M735.62 375.4V257.6" stroke="#800080" stroke-width="0.99" stroke-dasharray="3.48 1.54" fill="none"/>
<path d="M734.62 368.06l2.6 3.07m-2.6 0l2.6 -3.07M734.88 368.06l2.6 3.07m-2.6 0l2.6 -3.07M735.15 368.06l2.6 3.07m-2.6 0l2.6 -3.07M735.41 368.06l2.6 3.07m-2.6 0l2.6 -3.07M735.67 368.06l2.6 3.07m-2.6 0l2.6 -3.07M735.93 368.06l2.6 3.07m-2.6 0l2.6 -3.07M736.2 368.06l2.6 3.07m-2.6 0l2.6 -3.07M736.46 368.06l2.6 3.07m-2.6 0l2.6 -3.07M736.72 368.06l2.6 3.07m-2.6 0l2.6 -3.07M736.98 368.06l2.6 3.07m-2.6 0l2.6 -3.07M737.25 368.06l2.6 3.07m-2.6 0l2.6 -3.07M737.51 368.06l2.6 3.07m-2.6 0l2.6 -3.07M737.77 368.06l2.6 3.07m-2.6 0l2.6 -3.07M738.03 368.06l2.6 3.07m-2.6 0l2.6 -3.07M738.29 368.06l2.6 3.07m-2.6 0l2.6 -3.07M738.56 368.06l2.6 3.07m-2.6 0l2.6 -3.07M738.82 368.06l2.6 3.07m-2.6 0l2.6 -3.07M739.08 368.06l2.6 3.07m-2.6 0l2.6 -3.07M739.34 368.06l2.6 3.07m-2.6 0l2.6 -3.07M739.61 368.06l2.6 3.07m-2.6 0l2.6 -3.07M739.87 368.06l2.6 3.07m-2.6 0l2.6 -3.07M740.13 368.06l2.6 3.07m-2.6 0l2.6 -3.07M740.39 368.06l2.6 3.07m-2.6 0l2.6 -3.07M740.66 368.06l2.6 3.07m-2.6 0l2.6 -3.07M740.92 368.06l2.6 3.07m-2.6 0l2.6 -3.07M741.18 368.06l2.6 3.07m-2.6 0l2.6 -3.07M741.44 368.06l2.6 3.07m-2.6 0l2.6 -3.07M741.71 368.06l2.6 3.07m-2.6 0l2.6 -3.07M741.97 368.06l2.6 3.07m-2.6 0l2.6 -3.07M742.23 368.06l2.6 3.07m-2.6 0l2.6 -3.07M742.49 368.06l2.6 3.07m-2.6 0l2.6 -3.07M742.75 368.06l2.6 3.07m-2.6 0l2.6 -3.07M743.02 368.06l2.6 3.07m-2.6 0l2.6 -3.07M743.28 368.06l2.6 3.07m-2.6 0l2.6 -3.07M743.54 368.06l2.6 3.07m-2.6 0l2.6 -3.07M743.8 368.06l2.6 3.07m-2.6 0l2.6 -3.07M744.07 368.06l2.6 3.07m-2.6 0l2.6 -3.07M744.33 368.06l2.6 3.07m-2.6 0l2.6 -3.07M744.59 368.06l2.6 3.07m-2.6 0l2.6 -3.07M744.85 368.06l2.6 3.07m-2.6 0l2.6 -3.07M745.12 368.06l2.6 3.07m-2.6 0l2.6 -3.07M745.38 368.06l2.6 3.07m-2.6 0l2.6 -3.07M745.64 368.06l2.6 3.07m-2.6 0l2.6 -3.07M745.9 368.06l2.6 3.07m-2.6 0l2.6 -3.07M746.17 368.06l2.6 3.07m-2.6 0l2.6 -3.07M746.43 368.06l2.6 3.07m-2.6 0l2.6 -3.07M746.69 368.06l2.6 3.07m-2.6 0l2.6 -3.07M746.95 368.06l2.6 3.07m-2.6 0l2.6 -3.07M747.21 368.06l2.6 3.07m-2.6 0l2.6 -3.07M747.48 368.06l2.6 3.07m-2.6 0l2.6 -3.07M747.74 368.06l2.6 3.07m-2.6 0l2.6 -3.07M748 368.06l2.6 3.07m-2.6 0l2.6 -3.07M748.26 368.06l2.6 3.07m-2.6 0l2.6 -3.07M748.53 368.06l2.6 3.07m-2.6 0l2.6 -3.07M748.79 368.06l2.6 3.07m-2.6 0l2.6 -3.07M749.05 368.06l2.6 3.07m-2.6 0l2.6 -3.07M749.31 368.06l2.6 3.07m-2.6 0l2.6 -3.07M749.58 368.06l2.6 3.07m-2.6 0l2.6 -3.07M749.84 368.06l2.6 3.07m-2.6 0l2.6 -3.07M750.1 368.06l2.6 3.07m-2.6 0l2.6 -3.07M750.36 368.06l2.6 3.07m-2.6 0l2.6 -3.07M750.62 368.06l2.6 3.07m-2.6 0l2.6 -3.07M750.89 368.06l2.6 3.07m-2.6 0l2.6 -3.07M751.15 368.06l2.6 3.07m-2.6 0l2.6 -3.07M751.41 368.06l2.6 3.07m-2.6 0l2.6 -3.07M751.67 368.06l2.6 3.07m-2.6 0l2.6 -3.07M751.94 368.06l2.6 3.07m-2.6 0l2.6 -3.07M752.2 368.06l2.6 3.07m-2.6 0l2.6 -3.07M752.46 368.06l2.6 3.07m-2.6 0l2.6 -3.07M752.72 368.06l2.6 3.07m-2.6 0l2.6 -3.07M752.99 368.06l2.6 3.07m-2.6 0l2.6 -3.07M753.25 368.06l2.6 3.07m-2.6 0l2.6 -3.07M753.51 368.06l2.6 3.07m-2.6 0l2.6 -3.07M753.77 368.06l2.6 3.07m-2.6 0l2.6 -3.07M754.04 368.06l2.6 3.07m-2.6 0l2.6 -3.07M754.3 368.06l2.6 3.07m-2.6 0l2.6 -3.07M754.56 368.06l2.6 3.07m-2.6 0l2.6 -3.07M754.82 368.06l2.6 3.07m-2.6 0l2.6 -3.07M755.08 368.06l2.6 3.07m-2.6 0l2.6 -3.07M755.35 368.06l2.6 3.07m-2.6 0l2.6 -3.07M755.61 368.06l2.6 3.07m-2.6 0l2.6 -3.07M755.87 368.06l2.6 3.07m-2.6 0l2.6 -3.07M756.13 368.06l2.6 3.07m-2.6 0l2.6 -3.07M756.4 368.06l2.6 3.07m-2.6 0l2.6 -3.07M756.66 368.06l2.6 3.07m-2.6 0l2.6 -3.07M756.92 368.06l2.6 3.07m-2.6 0l2.6 -3.07M757.18 368.06l2.6 3.07m-2.6 0l2.6 -3.07M757.45 368.06l2.6 3.07m-2.6 0l2.6 -3.07M757.71 368.06l2.6 3.07m-2.6 0l2.6 -3.07M757.97 368.06l2.6 3.07m-2.6 0l2.6 -3.07" stroke="#ff0000" stroke-width="0.99" fill="none"/>
</g>
<path d="M589.6 257.6H767.8V375.4H589.6Z" stroke="#000" stroke-opacity=".5" stroke-width="1" fill="none"/>
<path d="M607.3 375.4v2.05M627.43 375.4v2.05M647.56 375.4v2.05M667.69 375.4v2.05M687.81 375.4v2.05M707.94 375.4v2.05M728.07 375.4v2.05M748.2 375.4v2.05M589.6 369.6h-1.79M589.6 356.01h-1.79M589.6 342.43h-1.79M589.6 328.84h-1.79M589.6 315.25h-1.79M589.6 301.66h-1.79M589.6 288.07h-1.79M589.6 274.49h-1.79M589.6 260.9h-1.79" stroke="#000" stroke-opacity=".5" stroke-width=".55" fill="none"/>
<text transform="translate(607.3 385) rotate(0.03) scale(0.875 1)" font-size="5.91" text-anchor="middle" fill="#262626" stroke="#262626">−20</text>
<text transform="translate(627.43 385) rotate(0.03) scale(0.875 1)" font-size="5.91" text-anchor="middle" fill="#262626" stroke="#262626">0</text>
<text transform="translate(647.56 385) rotate(0.03) scale(0.875 1)" font-size="5.91" text-anchor="middle" fill="#262626" stroke="#262626">20</text>
<text transform="translate(667.69 385) rotate(0.03) scale(0.875 1)" font-size="5.91" text-anchor="middle" fill="#262626" stroke="#262626">40</text>
<text transform="translate(687.81 385) rotate(0.03) scale(0.875 1)" font-size="5.91" text-anchor="middle" fill="#262626" stroke="#262626">60</text>
<text transform="translate(707.94 385) rotate(0.03) scale(0.875 1)" font-size="5.91" text-anchor="middle" fill="#262626" stroke="#262626">80</text>
<text transform="translate(728.07 385) rotate(0.03) scale(0.875 1)" font-size="5.91" text-anchor="middle" fill="#262626" stroke="#262626">100</text>
<text transform="translate(748.2 385) rotate(0.03) scale(0.875 1)" font-size="5.91" text-anchor="middle" fill="#262626" stroke="#262626">120</text>
<text transform="translate(585.75 371.73) rotate(0.03) scale(0.875 1)" font-size="5.91" text-anchor="end" fill="#262626" stroke="#262626">0</text>
<text transform="translate(585.75 358.14) rotate(0.03) scale(0.875 1)" font-size="5.91" text-anchor="end" fill="#262626" stroke="#262626">25</text>
<text transform="translate(585.75 344.55) rotate(0.03) scale(0.875 1)" font-size="5.91" text-anchor="end" fill="#262626" stroke="#262626">50</text>
<text transform="translate(585.75 330.96) rotate(0.03) scale(0.875 1)" font-size="5.91" text-anchor="end" fill="#262626" stroke="#262626">75</text>
<text transform="translate(585.75 317.38) rotate(0.03) scale(0.875 1)" font-size="5.91" text-anchor="end" fill="#262626" stroke="#262626">100</text>
<text transform="translate(585.75 303.79) rotate(0.03) scale(0.875 1)" font-size="5.91" text-anchor="end" fill="#262626" stroke="#262626">125</text>
<text transform="translate(585.75 290.2) rotate(0.03) scale(0.875 1)" font-size="5.91" text-anchor="end" fill="#262626" stroke="#262626">150</text>
<text transform="translate(585.75 276.61) rotate(0.03) scale(0.875 1)" font-size="5.91" text-anchor="end" fill="#262626" stroke="#262626">175</text>
<text transform="translate(585.75 263.03) rotate(0.03) scale(0.875 1)" font-size="5.91" text-anchor="end" fill="#262626" stroke="#262626">200</text>
<text transform="translate(678.7 393.5) rotate(0.03) scale(0.875 1)" font-size="5.91" text-anchor="middle" fill="#262626" stroke="#262626">GR</text>
<text transform="translate(573.16 317.52) rotate(-89.97) scale(1.142 1)" font-size="5.17" text-anchor="middle" fill="#262626" stroke="#262626">Frequency</text>
<text transform="translate(678.7 254.04) rotate(0.03) scale(0.875 1)" font-size="7.07" text-anchor="middle" fill="#262626" stroke="#262626">GR Data</text>
<text transform="translate(758.2 270.83) rotate(0.03) scale(0.875 1)" font-size="5.91" text-anchor="end" fill="#ff0000" stroke="#ff0000">Outliers before: 104</text>
<text transform="translate(758.2 276.93) rotate(0.03) scale(0.875 1)" font-size="5.91" text-anchor="end" fill="#008000" stroke="#008000">Outliers after: 0</text>
<text transform="translate(758.2 282.83) rotate(0.03) scale(0.875 1)" font-size="5.91" text-anchor="end" fill="#262626" stroke="#262626">Elapsed time: 0.0078 sec</text>
<rect x="577.6" y="395.3" width="201.8" height="14.8" rx=".8" fill="#fff" stroke="#d2d2d2" stroke-width=".75"/>
<rect x="579.6" y="397.31" width="7.9" height="3.38" fill="#0000ff" fill-opacity=".5"/>
<rect x="579.6" y="404.21" width="7.9" height="3.38" fill="#008000" fill-opacity=".5"/>
<text transform="translate(591.2 400.71) rotate(0.03) scale(0.875 1)" font-size="4.75" text-anchor="start" fill="#262626" stroke="#262626">Original Data</text>
<text transform="translate(591.2 407.61) rotate(0.03) scale(0.875 1)" font-size="4.75" text-anchor="start" fill="#262626" stroke="#262626">Winsorized Data</text>
<path d="M635.51 397.41l2.78 3.17m-2.78 0l2.78 -3.17" stroke="#ff0000" stroke-width="0.85" fill="none"/>
<path d="M633.05 405.9H640.75" stroke="#ffa500" stroke-width="0.92" stroke-dasharray="2.87 1.26" fill="none"/>
<text transform="translate(645.1 400.71) rotate(0.03) scale(0.875 1)" font-size="4.75" text-anchor="start" fill="#262626" stroke="#262626">Outliers</text>
<text transform="translate(645.1 407.61) rotate(0.03) scale(0.875 1)" font-size="4.75" text-anchor="start" fill="#262626" stroke="#262626">Winsorization Lower Bound</text>
<path d="M709.2 399H716.2" stroke="#800080" stroke-width="0.92" stroke-dasharray="2.87 1.26" fill="none"/>
<text transform="translate(721.2 400.71) rotate(0.03) scale(0.875 1)" font-size="4.75" text-anchor="start" fill="#262626" stroke="#262626">Winsorization Upper Bound</text>
<text x="674.3" y="439.8" class="cap" font-size="20" text-anchor="middle" fill="#000" font-family='"Liberation Serif","DejaVu Serif",serif'>(f)</text>
</g>
<g id="panel-g">
<clipPath id="cg"><rect x="43.3" y="468.5" width="187.1" height="117.8"/></clipPath>
<g clip-path="url(#cg)">
<path d="M52.2 585.9V474.65H55.59V584.88H58.98V585.9Z" fill="#0000ff" fill-opacity=".5"/>
<path d="M52.2 585.9V584.52H52.2V584.52H52.2V584.52H52.2V584.52H52.2V584.52H52.2V584.52H52.21V584.52H52.21V584.52H52.21V584.52H52.21V584.52H52.21V584.52H52.21V584.52H52.21V584.52H52.21V584.52H52.21V584.52H52.21V584.52H52.21V584.52H52.22V584.52H52.22V584.52H52.22V584.52H52.22V584.52H52.22V584.52H52.22V584.52H52.22V584.52H52.22V584.52H52.22V584.52H52.22V584.52H52.22V584.52H52.23V584.52H52.23V584.52H52.23V584.52H52.23V584.52H52.23V584.52H52.23V584.52H52.23V584.52H52.23V584.52H52.23V584.52H52.23V584.52H52.23V584.52H52.24V584.52H52.24V584.52H52.24V584.52H52.24V584.52H52.24V584.52H52.24V584.52H52.24V584.52H52.24V584.52H52.24V584.52H52.24V584.52H52.24V584.52H52.25V585.9Z" fill="#008000" fill-opacity=".5"/>
<path d="M52.15 586.3V468.5" stroke="#ffa500" stroke-width="1.05" stroke-dasharray="3.48 1.54" fill="none"/>
<path d="M52.22 586.3V468.5" stroke="#800080" stroke-width="1.05" stroke-dasharray="3.48 1.54" fill="none"/>
<path d="M50.14 584.36l2.77 3.07m-2.77 0l2.77 -3.07M50.35 584.36l2.77 3.07m-2.77 0l2.77 -3.07M50.55 584.36l2.77 3.07m-2.77 0l2.77 -3.07M50.76 584.36l2.77 3.07m-2.77 0l2.77 -3.07M50.97 584.36l2.77 3.07m-2.77 0l2.77 -3.07M51.18 584.36l2.77 3.07m-2.77 0l2.77 -3.07M51.39 584.36l2.77 3.07m-2.77 0l2.77 -3.07M51.59 584.36l2.77 3.07m-2.77 0l2.77 -3.07M51.8 584.36l2.77 3.07m-2.77 0l2.77 -3.07M52.01 584.36l2.77 3.07m-2.77 0l2.77 -3.07M52.22 584.36l2.77 3.07m-2.77 0l2.77 -3.07M52.43 584.36l2.77 3.07m-2.77 0l2.77 -3.07M52.63 584.36l2.77 3.07m-2.77 0l2.77 -3.07M52.84 584.36l2.77 3.07m-2.77 0l2.77 -3.07M53.05 584.36l2.77 3.07m-2.77 0l2.77 -3.07M53.26 584.36l2.77 3.07m-2.77 0l2.77 -3.07M53.47 584.36l2.77 3.07m-2.77 0l2.77 -3.07M53.67 584.36l2.77 3.07m-2.77 0l2.77 -3.07M53.88 584.36l2.77 3.07m-2.77 0l2.77 -3.07M54.09 584.36l2.77 3.07m-2.77 0l2.77 -3.07M54.3 584.36l2.77 3.07m-2.77 0l2.77 -3.07M54.51 584.36l2.77 3.07m-2.77 0l2.77 -3.07M54.71 584.36l2.77 3.07m-2.77 0l2.77 -3.07M54.92 584.36l2.77 3.07m-2.77 0l2.77 -3.07M55.13 584.36l2.77 3.07m-2.77 0l2.77 -3.07M55.34 584.36l2.77 3.07m-2.77 0l2.77 -3.07M55.55 584.36l2.77 3.07m-2.77 0l2.77 -3.07M55.75 584.36l2.77 3.07m-2.77 0l2.77 -3.07M55.96 584.36l2.77 3.07m-2.77 0l2.77 -3.07M56.17 584.36l2.77 3.07m-2.77 0l2.77 -3.07M56.38 584.36l2.77 3.07m-2.77 0l2.77 -3.07M56.59 584.36l2.77 3.07m-2.77 0l2.77 -3.07M56.79 584.36l2.77 3.07m-2.77 0l2.77 -3.07M57 584.36l2.77 3.07m-2.77 0l2.77 -3.07M57.21 584.36l2.77 3.07m-2.77 0l2.77 -3.07M57.42 584.36l2.77 3.07m-2.77 0l2.77 -3.07M57.62 584.36l2.77 3.07m-2.77 0l2.77 -3.07M57.83 584.36l2.77 3.07m-2.77 0l2.77 -3.07M58.04 584.36l2.77 3.07m-2.77 0l2.77 -3.07M58.25 584.36l2.77 3.07m-2.77 0l2.77 -3.07M104.57 584.36l2.77 3.07m-2.77 0l2.77 -3.07M154.72 584.36l2.77 3.07m-2.77 0l2.77 -3.07M220.23 584.36l2.77 3.07m-2.77 0l2.77 -3.07" stroke="#ff0000" stroke-width="1.05" fill="none"/>
</g>
<path d="M43.3 468.5H230.4V586.3H43.3Z" stroke="#000" stroke-opacity=".5" stroke-width="1" fill="none"/>
<path d="M52.2 586.3v2.05M74.73 586.3v2.05M97.26 586.3v2.05M119.79 586.3v2.05M142.31 586.3v2.05M164.84 586.3v2.05M187.37 586.3v2.05M209.9 586.3v2.05M43.3 585.9h-1.91M43.3 562.82h-1.91M43.3 539.74h-1.91M43.3 516.66h-1.91M43.3 493.58h-1.91M43.3 470.5h-1.91" stroke="#000" stroke-opacity=".5" stroke-width=".55" fill="none"/>
<text transform="translate(52.2 595.9) rotate(0.03) scale(0.933 1)" font-size="5.91" text-anchor="middle" fill="#262626" stroke="#262626">0</text>
<text transform="translate(74.73 595.9) rotate(0.03) scale(0.933 1)" font-size="5.91" text-anchor="middle" fill="#262626" stroke="#262626">500</text>
<text transform="translate(97.26 595.9) rotate(0.03) scale(0.933 1)" font-size="5.91" text-anchor="middle" fill="#262626" stroke="#262626">1000</text>
<text transform="translate(119.79 595.9) rotate(0.03) scale(0.933 1)" font-size="5.91" text-anchor="middle" fill="#262626" stroke="#262626">1500</text>
<text transform="translate(142.31 595.9) rotate(0.03) scale(0.933 1)" font-size="5.91" text-anchor="middle" fill="#262626" stroke="#262626">2000</text>
<text transform="translate(164.84 595.9) rotate(0.03) scale(0.933 1)" font-size="5.91" text-anchor="middle" fill="#262626" stroke="#262626">2500</text>
<text transform="translate(187.37 595.9) rotate(0.03) scale(0.933 1)" font-size="5.91" text-anchor="middle" fill="#262626" stroke="#262626">3000</text>
<text transform="translate(209.9 595.9) rotate(0.03) scale(0.933 1)" font-size="5.91" text-anchor="middle" fill="#262626" stroke="#262626">3500</text>
<text transform="translate(39.19 588.03) rotate(0.03) scale(0.933 1)" font-size="5.91" text-anchor="end" fill="#262626" stroke="#262626">0</text>
<text transform="translate(39.19 564.95) rotate(0.03) scale(0.933 1)" font-size="5.91" text-anchor="end" fill="#262626" stroke="#262626">500</text>
<text transform="translate(39.19 541.87) rotate(0.03) scale(0.933 1)" font-size="5.91" text-anchor="end" fill="#262626" stroke="#262626">1000</text>
<text transform="translate(39.19 518.79) rotate(0.03) scale(0.933 1)" font-size="5.91" text-anchor="end" fill="#262626" stroke="#262626">1500</text>
<text transform="translate(39.19 495.71) rotate(0.03) scale(0.933 1)" font-size="5.91" text-anchor="end" fill="#262626" stroke="#262626">2000</text>
<text transform="translate(39.19 472.63) rotate(0.03) scale(0.933 1)" font-size="5.91" text-anchor="end" fill="#262626" stroke="#262626">2500</text>
<text transform="translate(136.85 604.4) rotate(0.03) scale(0.933 1)" font-size="5.91" text-anchor="middle" fill="#262626" stroke="#262626">LLD</text>
<text transform="translate(22.48 528.42) rotate(-89.97) scale(1.072 1)" font-size="5.51" text-anchor="middle" fill="#262626" stroke="#262626">Frequency</text>
<text transform="translate(136.85 465.14) rotate(0.03) scale(0.933 1)" font-size="7.07" text-anchor="middle" fill="#262626" stroke="#262626">LLD Data</text>
<text transform="translate(220.2 481.73) rotate(0.03) scale(0.933 1)" font-size="5.91" text-anchor="end" fill="#ff0000" stroke="#ff0000">Outliers before: 307</text>
<text transform="translate(220.2 487.83) rotate(0.03) scale(0.933 1)" font-size="5.91" text-anchor="end" fill="#008000" stroke="#008000">Outliers after: 0</text>
<text transform="translate(220.2 493.73) rotate(0.03) scale(0.933 1)" font-size="5.91" text-anchor="end" fill="#262626" stroke="#262626">Elapsed time: 0.0080 sec</text>
<rect x="29.2" y="606.3" width="215.1" height="14.7" rx=".8" fill="#fff" stroke="#d2d2d2" stroke-width=".75"/>
<rect x="31.3" y="608.31" width="7.7" height="3.38" fill="#0000ff" fill-opacity=".5"/>
<rect x="31.3" y="615.31" width="7.7" height="3.38" fill="#008000" fill-opacity=".5"/>
<text transform="translate(43.1 611.71) rotate(0.03) scale(0.933 1)" font-size="4.75" text-anchor="start" fill="#262626" stroke="#262626">Original Data</text>
<text transform="translate(43.1 618.71) rotate(0.03) scale(0.933 1)" font-size="4.75" text-anchor="start" fill="#262626" stroke="#262626">Winsorized Data</text>
<path d="M91.52 608.41l2.96 3.17m-2.96 0l2.96 -3.17" stroke="#ff0000" stroke-width="0.91" fill="none"/>
<path d="M88.89 617H97.11" stroke="#ffa500" stroke-width="0.92" stroke-dasharray="3.06 1.34" fill="none"/>
<text transform="translate(101 611.71) rotate(0.03) scale(0.933 1)" font-size="4.75" text-anchor="start" fill="#262626" stroke="#262626">Outliers</text>
<text transform="translate(101 618.71) rotate(0.03) scale(0.933 1)" font-size="4.75" text-anchor="start" fill="#262626" stroke="#262626">Winsorization Lower Bound</text>
<path d="M169.4 610H177.7" stroke="#800080" stroke-width="0.92" stroke-dasharray="3.06 1.34" fill="none"/>
<text transform="translate(182.7 611.71) rotate(0.03) scale(0.933 1)" font-size="4.75" text-anchor="start" fill="#262626" stroke="#262626">Winsorization Upper Bound</text>
<text x="131.3" y="649.8" class="cap" font-size="20" text-anchor="middle" fill="#000" font-family='"Liberation Serif","DejaVu Serif",serif'>(g)</text>
</g>
<g id="panel-h">
<clipPath id="ch"><rect x="330.5" y="468.5" width="169.5" height="118.3"/></clipPath>
<g clip-path="url(#ch)">
<path d="M338.55 586.6V474.07H341.62V571.46H344.68V582.18H347.75V584.36H350.81V585.13H353.88V585.54H356.95V586.6Z" fill="#0000ff" fill-opacity=".5"/>
<path d="M338.55 586.6V585.42H338.67V583.95H338.79V582.48H338.9V581H339.02V580.12H339.14V580H339.26V580.41H339.38V580.94H339.5V581.42H339.61V581.89H339.73V582.24H339.85V582.59H339.97V582.95H340.09V583.24H340.21V583.48H340.32V583.71H340.44V583.95H340.56V584.13H340.68V584.3H340.8V584.48H340.92V584.6H341.03V584.71H341.15V584.83H341.27V584.95H341.39V585.07H341.51V585.13H341.63V585.24H341.74V585.3H341.86V585.36H341.98V585.42H342.1V585.48H342.22V585.54H342.34V585.6H342.45V585.66H342.57V585.66H342.69V585.72H342.81V585.78H342.93V585.78H343.05V585.83H343.16V585.83H343.28V585.89H343.4V585.89H343.52V585.95H343.64V585.95H343.76V586.01H343.87V586.01H343.99V586.01H344.11V586.07H344.23V586.07H344.35V569.87H344.47V586.6Z" fill="#008000" fill-opacity=".5"/>
<path d="M336.38 586.8V468.5" stroke="#ffa500" stroke-width="0.96" stroke-dasharray="3.50 1.54" fill="none"/>
<path d="M344.47 586.8V468.5" stroke="#800080" stroke-width="0.96" stroke-dasharray="3.50 1.54" fill="none"/>
<path d="M343.37 585.06l2.52 3.09m-2.52 0l2.52 -3.09M343.86 585.06l2.52 3.09m-2.52 0l2.52 -3.09M344.35 585.06l2.52 3.09m-2.52 0l2.52 -3.09M344.84 585.06l2.52 3.09m-2.52 0l2.52 -3.09M345.33 585.06l2.52 3.09m-2.52 0l2.52 -3.09M345.82 585.06l2.52 3.09m-2.52 0l2.52 -3.09M346.31 585.06l2.52 3.09m-2.52 0l2.52 -3.09M346.81 585.06l2.52 3.09m-2.52 0l2.52 -3.09M347.3 585.06l2.52 3.09m-2.52 0l2.52 -3.09M347.79 585.06l2.52 3.09m-2.52 0l2.52 -3.09M348.28 585.06l2.52 3.09m-2.52 0l2.52 -3.09M348.77 585.06l2.52 3.09m-2.52 0l2.52 -3.09M349.26 585.06l2.52 3.09m-2.52 0l2.52 -3.09M349.75 585.06l2.52 3.09m-2.52 0l2.52 -3.09M350.24 585.06l2.52 3.09m-2.52 0l2.52 -3.09M350.73 585.06l2.52 3.09m-2.52 0l2.52 -3.09M351.22 585.06l2.52 3.09m-2.52 0l2.52 -3.09M351.71 585.06l2.52 3.09m-2.52 0l2.52 -3.09M352.2 585.06l2.52 3.09m-2.52 0l2.52 -3.09M352.69 585.06l2.52 3.09m-2.52 0l2.52 -3.09M353.18 585.06l2.52 3.09m-2.52 0l2.52 -3.09M353.67 585.06l2.52 3.09m-2.52 0l2.52 -3.09M354.16 585.06l2.52 3.09m-2.52 0l2.52 -3.09M354.65 585.06l2.52 3.09m-2.52 0l2.52 -3.09M355.14 585.06l2.52 3.09m-2.52 0l2.52 -3.09M355.63 585.06l2.52 3.09m-2.52 0l2.52 -3.09M356.13 585.06l2.52 3.09m-2.52 0l2.52 -3.09M356.62 585.06l2.52 3.09m-2.52 0l2.52 -3.09M357.11 585.06l2.52 3.09m-2.52 0l2.52 -3.09M357.6 585.06l2.52 3.09m-2.52 0l2.52 -3.09M358.09 585.06l2.52 3.09m-2.52 0l2.52 -3.09M358.58 585.06l2.52 3.09m-2.52 0l2.52 -3.09M359.07 585.06l2.52 3.09m-2.52 0l2.52 -3.09M359.56 585.06l2.52 3.09m-2.52 0l2.52 -3.09M360.05 585.06l2.52 3.09m-2.52 0l2.52 -3.09M360.54 585.06l2.52 3.09m-2.52 0l2.52 -3.09M361.03 585.06l2.52 3.09m-2.52 0l2.52 -3.09M361.52 585.06l2.52 3.09m-2.52 0l2.52 -3.09M362.01 585.06l2.52 3.09m-2.52 0l2.52 -3.09M362.5 585.06l2.52 3.09m-2.52 0l2.52 -3.09M362.99 585.06l2.52 3.09m-2.52 0l2.52 -3.09M363.48 585.06l2.52 3.09m-2.52 0l2.52 -3.09M363.97 585.06l2.52 3.09m-2.52 0l2.52 -3.09M364.46 585.06l2.52 3.09m-2.52 0l2.52 -3.09M364.95 585.06l2.52 3.09m-2.52 0l2.52 -3.09M365.45 585.06l2.52 3.09m-2.52 0l2.52 -3.09M365.94 585.06l2.52 3.09m-2.52 0l2.52 -3.09M366.43 585.06l2.52 3.09m-2.52 0l2.52 -3.09M366.92 585.06l2.52 3.09m-2.52 0l2.52 -3.09M367.41 585.06l2.52 3.09m-2.52 0l2.52 -3.09M367.9 585.06l2.52 3.09m-2.52 0l2.52 -3.09M368.39 585.06l2.52 3.09m-2.52 0l2.52 -3.09M368.88 585.06l2.52 3.09m-2.52 0l2.52 -3.09M369.37 585.06l2.52 3.09m-2.52 0l2.52 -3.09M369.86 585.06l2.52 3.09m-2.52 0l2.52 -3.09M370.35 585.06l2.52 3.09m-2.52 0l2.52 -3.09M370.84 585.06l2.52 3.09m-2.52 0l2.52 -3.09M371.33 585.06l2.52 3.09m-2.52 0l2.52 -3.09M371.82 585.06l2.52 3.09m-2.52 0l2.52 -3.09M372.31 585.06l2.52 3.09m-2.52 0l2.52 -3.09M372.8 585.06l2.52 3.09m-2.52 0l2.52 -3.09M373.29 585.06l2.52 3.09m-2.52 0l2.52 -3.09M373.78 585.06l2.52 3.09m-2.52 0l2.52 -3.09M374.27 585.06l2.52 3.09m-2.52 0l2.52 -3.09M374.77 585.06l2.52 3.09m-2.52 0l2.52 -3.09M375.26 585.06l2.52 3.09m-2.52 0l2.52 -3.09M375.75 585.06l2.52 3.09m-2.52 0l2.52 -3.09M376.24 585.06l2.52 3.09m-2.52 0l2.52 -3.09M376.73 585.06l2.52 3.09m-2.52 0l2.52 -3.09M377.22 585.06l2.52 3.09m-2.52 0l2.52 -3.09M377.71 585.06l2.52 3.09m-2.52 0l2.52 -3.09M378.2 585.06l2.52 3.09m-2.52 0l2.52 -3.09M378.69 585.06l2.52 3.09m-2.52 0l2.52 -3.09M379.18 585.06l2.52 3.09m-2.52 0l2.52 -3.09M379.67 585.06l2.52 3.09m-2.52 0l2.52 -3.09M380.16 585.06l2.52 3.09m-2.52 0l2.52 -3.09M380.65 585.06l2.52 3.09m-2.52 0l2.52 -3.09M381.14 585.06l2.52 3.09m-2.52 0l2.52 -3.09M381.63 585.06l2.52 3.09m-2.52 0l2.52 -3.09M382.12 585.06l2.52 3.09m-2.52 0l2.52 -3.09M382.61 585.06l2.52 3.09m-2.52 0l2.52 -3.09M383.1 585.06l2.52 3.09m-2.52 0l2.52 -3.09M383.59 585.06l2.52 3.09m-2.52 0l2.52 -3.09M384.09 585.06l2.52 3.09m-2.52 0l2.52 -3.09M384.58 585.06l2.52 3.09m-2.52 0l2.52 -3.09M385.07 585.06l2.52 3.09m-2.52 0l2.52 -3.09M385.56 585.06l2.52 3.09m-2.52 0l2.52 -3.09M386.05 585.06l2.52 3.09m-2.52 0l2.52 -3.09M386.54 585.06l2.52 3.09m-2.52 0l2.52 -3.09M387.03 585.06l2.52 3.09m-2.52 0l2.52 -3.09M388.69 585.06l2.52 3.09m-2.52 0l2.52 -3.09M389.94 585.06l2.52 3.09m-2.52 0l2.52 -3.09M391.69 585.06l2.52 3.09m-2.52 0l2.52 -3.09M395.36 585.06l2.52 3.09m-2.52 0l2.52 -3.09M397.03 585.06l2.52 3.09m-2.52 0l2.52 -3.09M404.52 585.06l2.52 3.09m-2.52 0l2.52 -3.09M407.02 585.06l2.52 3.09m-2.52 0l2.52 -3.09M409.27 585.06l2.52 3.09m-2.52 0l2.52 -3.09M410.36 585.06l2.52 3.09m-2.52 0l2.52 -3.09M412.02 585.06l2.52 3.09m-2.52 0l2.52 -3.09M413.69 585.06l2.52 3.09m-2.52 0l2.52 -3.09M415.36 585.06l2.52 3.09m-2.52 0l2.52 -3.09M416.61 585.06l2.52 3.09m-2.52 0l2.52 -3.09M417.85 585.06l2.52 3.09m-2.52 0l2.52 -3.09M419.52 585.06l2.52 3.09m-2.52 0l2.52 -3.09M421.19 585.06l2.52 3.09m-2.52 0l2.52 -3.09M447.51 585.06l2.52 3.09m-2.52 0l2.52 -3.09M490.59 585.06l2.52 3.09m-2.52 0l2.52 -3.09" stroke="#ff0000" stroke-width="0.96" fill="none"/>
</g>
<path d="M330.5 468.5H500V586.8H330.5Z" stroke="#000" stroke-opacity=".5" stroke-width="1" fill="none"/>
<path d="M338.3 586.8v2.06M359.13 586.8v2.06M379.96 586.8v2.06M400.79 586.8v2.06M421.61 586.8v2.06M442.44 586.8v2.06M463.27 586.8v2.06M484.1 586.8v2.06M330.5 586.6h-1.74M330.5 571.87h-1.74M330.5 557.14h-1.74M330.5 542.41h-1.74M330.5 527.69h-1.74M330.5 512.96h-1.74M330.5 498.23h-1.74M330.5 483.5h-1.74" stroke="#000" stroke-opacity=".5" stroke-width=".55" fill="none"/>
<text transform="translate(338.3 596.45) rotate(0.03) scale(0.845 1)" font-size="5.94" text-anchor="middle" fill="#262626" stroke="#262626">0</text>
<text transform="translate(359.13 596.45) rotate(0.03) scale(0.845 1)" font-size="5.94" text-anchor="middle" fill="#262626" stroke="#262626">25</text>
<text transform="translate(379.96 596.45) rotate(0.03) scale(0.845 1)" font-size="5.94" text-anchor="middle" fill="#262626" stroke="#262626">50</text>
<text transform="translate(400.79 596.45) rotate(0.03) scale(0.845 1)" font-size="5.94" text-anchor="middle" fill="#262626" stroke="#262626">75</text>
<text transform="translate(421.61 596.45) rotate(0.03) scale(0.845 1)" font-size="5.94" text-anchor="middle" fill="#262626" stroke="#262626">100</text>
<text transform="translate(442.44 596.45) rotate(0.03) scale(0.845 1)" font-size="5.94" text-anchor="middle" fill="#262626" stroke="#262626">125</text>
<text transform="translate(463.27 596.45) rotate(0.03) scale(0.845 1)" font-size="5.94" text-anchor="middle" fill="#262626" stroke="#262626">150</text>
<text transform="translate(484.1 596.45) rotate(0.03) scale(0.845 1)" font-size="5.94" text-anchor="middle" fill="#262626" stroke="#262626">175</text>
<text transform="translate(326.76 588.74) rotate(0.03) scale(0.845 1)" font-size="5.94" text-anchor="end" fill="#262626" stroke="#262626">0</text>
<text transform="translate(326.76 574.01) rotate(0.03) scale(0.845 1)" font-size="5.94" text-anchor="end" fill="#262626" stroke="#262626">250</text>
<text transform="translate(326.76 559.28) rotate(0.03) scale(0.845 1)" font-size="5.94" text-anchor="end" fill="#262626" stroke="#262626">500</text>
<text transform="translate(326.76 544.55) rotate(0.03) scale(0.845 1)" font-size="5.94" text-anchor="end" fill="#262626" stroke="#262626">750</text>
<text transform="translate(326.76 529.82) rotate(0.03) scale(0.845 1)" font-size="5.94" text-anchor="end" fill="#262626" stroke="#262626">1000</text>
<text transform="translate(326.76 515.09) rotate(0.03) scale(0.845 1)" font-size="5.94" text-anchor="end" fill="#262626" stroke="#262626">1250</text>
<text transform="translate(326.76 500.37) rotate(0.03) scale(0.845 1)" font-size="5.94" text-anchor="end" fill="#262626" stroke="#262626">1500</text>
<text transform="translate(326.76 485.64) rotate(0.03) scale(0.845 1)" font-size="5.94" text-anchor="end" fill="#262626" stroke="#262626">1750</text>
<text transform="translate(415.25 604.99) rotate(0.03) scale(0.845 1)" font-size="5.94" text-anchor="middle" fill="#262626" stroke="#262626">LLS</text>
<text transform="translate(311.61 528.68) rotate(-89.97) scale(1.184 1)" font-size="5.01" text-anchor="middle" fill="#262626" stroke="#262626">Frequency</text>
<text transform="translate(415.25 465.16) rotate(0.03) scale(0.845 1)" font-size="7.1" text-anchor="middle" fill="#262626" stroke="#262626">LLS Data</text>
<text transform="translate(491 481.94) rotate(0.03) scale(0.845 1)" font-size="5.94" text-anchor="end" fill="#ff0000" stroke="#ff0000">Outliers before: 284</text>
<text transform="translate(491 488.04) rotate(0.03) scale(0.845 1)" font-size="5.94" text-anchor="end" fill="#008000" stroke="#008000">Outliers after: 0</text>
<text transform="translate(491 494.34) rotate(0.03) scale(0.845 1)" font-size="5.94" text-anchor="end" fill="#262626" stroke="#262626">Elapsed time: 0.0097 sec</text>
<rect x="317.2" y="606.8" width="195.6" height="15.2" rx=".8" fill="#fff" stroke="#d2d2d2" stroke-width=".75"/>
<rect x="319.4" y="609.2" width="7.4" height="3.4" fill="#0000ff" fill-opacity=".5"/>
<rect x="319.4" y="616.2" width="7.4" height="3.4" fill="#008000" fill-opacity=".5"/>
<text transform="translate(330.1 612.62) rotate(0.03) scale(0.845 1)" font-size="4.77" text-anchor="start" fill="#262626" stroke="#262626">Original Data</text>
<text transform="translate(330.1 619.62) rotate(0.03) scale(0.845 1)" font-size="4.77" text-anchor="start" fill="#262626" stroke="#262626">Winsorized Data</text>
<path d="M374.05 609.31l2.69 3.19m-2.69 0l2.69 -3.19" stroke="#ff0000" stroke-width="0.83" fill="none"/>
<path d="M371.66 617.9H379.14" stroke="#ffa500" stroke-width="0.93" stroke-dasharray="2.78 1.22" fill="none"/>
<text transform="translate(382.8 612.62) rotate(0.03) scale(0.845 1)" font-size="4.77" text-anchor="start" fill="#262626" stroke="#262626">Outliers</text>
<text transform="translate(382.8 619.62) rotate(0.03) scale(0.845 1)" font-size="4.77" text-anchor="start" fill="#262626" stroke="#262626">Winsorization Lower Bound</text>
<path d="M444.8 610.9H451.2" stroke="#800080" stroke-width="0.93" stroke-dasharray="2.78 1.22" fill="none"/>
<text transform="translate(456.8 612.62) rotate(0.03) scale(0.845 1)" font-size="4.77" text-anchor="start" fill="#262626" stroke="#262626">Winsorization Upper Bound</text>
<text x="409.9" y="649.8" class="cap" font-size="20" text-anchor="middle" fill="#000" font-family='"Liberation Serif","DejaVu Serif",serif'>(h)</text>
</g>
<g id="panel-i">
<clipPath id="ci"><rect x="594.4" y="468.5" width="169.3" height="117.8"/></clipPath>
<g clip-path="url(#ci)">
<path d="M602.8 586.1V473.68H605.87V580.39H608.93V584.13H612V585.02H615.07V586.1Z" fill="#0000ff" fill-opacity=".5"/>
<path d="M602.8 586.1V584.87H602.85V583.15H602.9V581.43H602.95V580.44H603V580.69H603.05V581.18H603.1V581.67H603.15V582.16H603.2V582.56H603.25V582.9H603.3V583.15H603.35V583.39H603.4V583.64H603.45V583.84H603.5V583.98H603.55V584.13H603.6V584.28H603.65V584.38H603.7V584.48H603.75V584.57H603.8V584.67H603.85V584.77H603.9V584.82H603.95V584.92H604V584.97H604.05V585.02H604.1V585.07H604.15V585.12H604.2V585.17H604.25V585.21H604.3V585.26H604.35V585.31H604.4V585.31H604.45V585.36H604.5V585.41H604.55V585.41H604.6V585.46H604.65V585.46H604.7V585.51H604.75V585.51H604.8V585.56H604.85V585.56H604.9V585.61H604.95V585.61H605V585.61H605.06V585.66H605.11V585.66H605.16V585.66H605.21V585.71H605.26V576.26H605.31V586.1Z" fill="#008000" fill-opacity=".5"/>
<path d="M601.23 586.3V468.5" stroke="#ffa500" stroke-width="0.95" stroke-dasharray="3.48 1.54" fill="none"/>
<path d="M605.31 586.3V468.5" stroke="#800080" stroke-width="0.95" stroke-dasharray="3.48 1.54" fill="none"/>
<path d="M604.15 584.56l2.52 3.07m-2.52 0l2.52 -3.07M604.45 584.56l2.52 3.07m-2.52 0l2.52 -3.07M604.76 584.56l2.52 3.07m-2.52 0l2.52 -3.07M605.06 584.56l2.52 3.07m-2.52 0l2.52 -3.07M605.37 584.56l2.52 3.07m-2.52 0l2.52 -3.07M605.68 584.56l2.52 3.07m-2.52 0l2.52 -3.07M605.98 584.56l2.52 3.07m-2.52 0l2.52 -3.07M606.29 584.56l2.52 3.07m-2.52 0l2.52 -3.07M606.59 584.56l2.52 3.07m-2.52 0l2.52 -3.07M606.9 584.56l2.52 3.07m-2.52 0l2.52 -3.07M607.21 584.56l2.52 3.07m-2.52 0l2.52 -3.07M607.51 584.56l2.52 3.07m-2.52 0l2.52 -3.07M607.82 584.56l2.52 3.07m-2.52 0l2.52 -3.07M608.12 584.56l2.52 3.07m-2.52 0l2.52 -3.07M608.43 584.56l2.52 3.07m-2.52 0l2.52 -3.07M608.74 584.56l2.52 3.07m-2.52 0l2.52 -3.07M609.04 584.56l2.52 3.07m-2.52 0l2.52 -3.07M609.35 584.56l2.52 3.07m-2.52 0l2.52 -3.07M609.65 584.56l2.52 3.07m-2.52 0l2.52 -3.07M609.96 584.56l2.52 3.07m-2.52 0l2.52 -3.07M610.27 584.56l2.52 3.07m-2.52 0l2.52 -3.07M610.57 584.56l2.52 3.07m-2.52 0l2.52 -3.07M610.88 584.56l2.52 3.07m-2.52 0l2.52 -3.07M611.19 584.56l2.52 3.07m-2.52 0l2.52 -3.07M611.49 584.56l2.52 3.07m-2.52 0l2.52 -3.07M611.8 584.56l2.52 3.07m-2.52 0l2.52 -3.07M612.1 584.56l2.52 3.07m-2.52 0l2.52 -3.07M612.41 584.56l2.52 3.07m-2.52 0l2.52 -3.07M612.72 584.56l2.52 3.07m-2.52 0l2.52 -3.07M613.02 584.56l2.52 3.07m-2.52 0l2.52 -3.07M613.33 584.56l2.52 3.07m-2.52 0l2.52 -3.07M613.63 584.56l2.52 3.07m-2.52 0l2.52 -3.07M613.94 584.56l2.52 3.07m-2.52 0l2.52 -3.07M614.25 584.56l2.52 3.07m-2.52 0l2.52 -3.07M614.55 584.56l2.52 3.07m-2.52 0l2.52 -3.07M614.86 584.56l2.52 3.07m-2.52 0l2.52 -3.07M615.16 584.56l2.52 3.07m-2.52 0l2.52 -3.07M615.47 584.56l2.52 3.07m-2.52 0l2.52 -3.07M615.78 584.56l2.52 3.07m-2.52 0l2.52 -3.07M616.08 584.56l2.52 3.07m-2.52 0l2.52 -3.07M616.39 584.56l2.52 3.07m-2.52 0l2.52 -3.07M616.69 584.56l2.52 3.07m-2.52 0l2.52 -3.07M617 584.56l2.52 3.07m-2.52 0l2.52 -3.07M617.31 584.56l2.52 3.07m-2.52 0l2.52 -3.07M617.61 584.56l2.52 3.07m-2.52 0l2.52 -3.07M617.92 584.56l2.52 3.07m-2.52 0l2.52 -3.07M618.22 584.56l2.52 3.07m-2.52 0l2.52 -3.07M618.53 584.56l2.52 3.07m-2.52 0l2.52 -3.07M618.84 584.56l2.52 3.07m-2.52 0l2.52 -3.07M619.14 584.56l2.52 3.07m-2.52 0l2.52 -3.07M619.63 584.56l2.52 3.07m-2.52 0l2.52 -3.07M620.45 584.56l2.52 3.07m-2.52 0l2.52 -3.07M621.27 584.56l2.52 3.07m-2.52 0l2.52 -3.07M622.09 584.56l2.52 3.07m-2.52 0l2.52 -3.07M622.91 584.56l2.52 3.07m-2.52 0l2.52 -3.07M623.73 584.56l2.52 3.07m-2.52 0l2.52 -3.07M624.55 584.56l2.52 3.07m-2.52 0l2.52 -3.07M625.37 584.56l2.52 3.07m-2.52 0l2.52 -3.07M626.19 584.56l2.52 3.07m-2.52 0l2.52 -3.07M627.01 584.56l2.52 3.07m-2.52 0l2.52 -3.07M627.83 584.56l2.52 3.07m-2.52 0l2.52 -3.07M628.65 584.56l2.52 3.07m-2.52 0l2.52 -3.07M629.47 584.56l2.52 3.07m-2.52 0l2.52 -3.07M630.29 584.56l2.52 3.07m-2.52 0l2.52 -3.07M631.11 584.56l2.52 3.07m-2.52 0l2.52 -3.07M631.93 584.56l2.52 3.07m-2.52 0l2.52 -3.07M632.74 584.56l2.52 3.07m-2.52 0l2.52 -3.07M633.56 584.56l2.52 3.07m-2.52 0l2.52 -3.07M634.38 584.56l2.52 3.07m-2.52 0l2.52 -3.07M635.2 584.56l2.52 3.07m-2.52 0l2.52 -3.07M636.02 584.56l2.52 3.07m-2.52 0l2.52 -3.07M636.84 584.56l2.52 3.07m-2.52 0l2.52 -3.07M642.25 584.56l2.52 3.07m-2.52 0l2.52 -3.07M643.23 584.56l2.52 3.07m-2.52 0l2.52 -3.07M648.15 584.56l2.52 3.07m-2.52 0l2.52 -3.07M649.38 584.56l2.52 3.07m-2.52 0l2.52 -3.07M650.61 584.56l2.52 3.07m-2.52 0l2.52 -3.07M652.08 584.56l2.52 3.07m-2.52 0l2.52 -3.07M653.56 584.56l2.52 3.07m-2.52 0l2.52 -3.07M655.03 584.56l2.52 3.07m-2.52 0l2.52 -3.07M658.97 584.56l2.52 3.07m-2.52 0l2.52 -3.07M660.44 584.56l2.52 3.07m-2.52 0l2.52 -3.07M661.92 584.56l2.52 3.07m-2.52 0l2.52 -3.07M663.88 584.56l2.52 3.07m-2.52 0l2.52 -3.07M694.86 584.56l2.52 3.07m-2.52 0l2.52 -3.07M696.83 584.56l2.52 3.07m-2.52 0l2.52 -3.07M698.3 584.56l2.52 3.07m-2.52 0l2.52 -3.07M699.78 584.56l2.52 3.07m-2.52 0l2.52 -3.07M701.74 584.56l2.52 3.07m-2.52 0l2.52 -3.07M704.2 584.56l2.52 3.07m-2.52 0l2.52 -3.07M707.64 584.56l2.52 3.07m-2.52 0l2.52 -3.07M718.46 584.56l2.52 3.07m-2.52 0l2.52 -3.07M754.6 584.56l2.52 3.07m-2.52 0l2.52 -3.07" stroke="#ff0000" stroke-width="0.95" fill="none"/>
</g>
<path d="M594.4 468.5H763.7V586.3H594.4Z" stroke="#000" stroke-opacity=".5" stroke-width="1" fill="none"/>
<path d="M602.7 586.3v2.05M627.28 586.3v2.05M651.87 586.3v2.05M676.45 586.3v2.05M701.03 586.3v2.05M725.62 586.3v2.05M750.2 586.3v2.05M594.4 586.1h-1.74M594.4 561.5h-1.74M594.4 536.9h-1.74M594.4 512.3h-1.74M594.4 487.7h-1.74" stroke="#000" stroke-opacity=".5" stroke-width=".55" fill="none"/>
<text transform="translate(602.7 595.9) rotate(0.03) scale(0.847 1)" font-size="5.91" text-anchor="middle" fill="#262626" stroke="#262626">0</text>
<text transform="translate(627.28 595.9) rotate(0.03) scale(0.847 1)" font-size="5.91" text-anchor="middle" fill="#262626" stroke="#262626">50</text>
<text transform="translate(651.87 595.9) rotate(0.03) scale(0.847 1)" font-size="5.91" text-anchor="middle" fill="#262626" stroke="#262626">100</text>
<text transform="translate(676.45 595.9) rotate(0.03) scale(0.847 1)" font-size="5.91" text-anchor="middle" fill="#262626" stroke="#262626">150</text>
<text transform="translate(701.03 595.9) rotate(0.03) scale(0.847 1)" font-size="5.91" text-anchor="middle" fill="#262626" stroke="#262626">200</text>
<text transform="translate(725.62 595.9) rotate(0.03) scale(0.847 1)" font-size="5.91" text-anchor="middle" fill="#262626" stroke="#262626">250</text>
<text transform="translate(750.2 595.9) rotate(0.03) scale(0.847 1)" font-size="5.91" text-anchor="middle" fill="#262626" stroke="#262626">300</text>
<text transform="translate(590.67 588.23) rotate(0.03) scale(0.847 1)" font-size="5.91" text-anchor="end" fill="#262626" stroke="#262626">0</text>
<text transform="translate(590.67 563.63) rotate(0.03) scale(0.847 1)" font-size="5.91" text-anchor="end" fill="#262626" stroke="#262626">500</text>
<text transform="translate(590.67 539.03) rotate(0.03) scale(0.847 1)" font-size="5.91" text-anchor="end" fill="#262626" stroke="#262626">1000</text>
<text transform="translate(590.67 514.43) rotate(0.03) scale(0.847 1)" font-size="5.91" text-anchor="end" fill="#262626" stroke="#262626">1500</text>
<text transform="translate(590.67 489.83) rotate(0.03) scale(0.847 1)" font-size="5.91" text-anchor="end" fill="#262626" stroke="#262626">2000</text>
<text transform="translate(679.05 604.4) rotate(0.03) scale(0.847 1)" font-size="5.91" text-anchor="middle" fill="#262626" stroke="#262626">MSFL</text>
<text transform="translate(575.8 528.42) rotate(-89.97) scale(1.180 1)" font-size="5.01" text-anchor="middle" fill="#262626" stroke="#262626">Frequency</text>
<text transform="translate(679.05 465.14) rotate(0.03) scale(0.847 1)" font-size="7.07" text-anchor="middle" fill="#262626" stroke="#262626">MSFL Data</text>
<text transform="translate(754.8 481.73) rotate(0.03) scale(0.847 1)" font-size="5.91" text-anchor="end" fill="#ff0000" stroke="#ff0000">Outliers before: 200</text>
<text transform="translate(754.8 487.83) rotate(0.03) scale(0.847 1)" font-size="5.91" text-anchor="end" fill="#008000" stroke="#008000">Outliers after: 0</text>
<text transform="translate(754.8 493.93) rotate(0.03) scale(0.847 1)" font-size="5.91" text-anchor="end" fill="#262626" stroke="#262626">Elapsed time: 0.0087 sec</text>
<rect x="581.4" y="606.3" width="195.3" height="14.7" rx=".8" fill="#fff" stroke="#d2d2d2" stroke-width=".75"/>
<rect x="583.3" y="608.31" width="7.4" height="3.38" fill="#0000ff" fill-opacity=".5"/>
<rect x="583.3" y="615.31" width="7.4" height="3.38" fill="#008000" fill-opacity=".5"/>
<text transform="translate(594.4 611.71) rotate(0.03) scale(0.847 1)" font-size="4.75" text-anchor="start" fill="#262626" stroke="#262626">Original Data</text>
<text transform="translate(594.4 618.71) rotate(0.03) scale(0.847 1)" font-size="4.75" text-anchor="start" fill="#262626" stroke="#262626">Winsorized Data</text>
<path d="M637.76 608.41l2.69 3.17m-2.69 0l2.69 -3.17" stroke="#ff0000" stroke-width="0.82" fill="none"/>
<path d="M635.37 617H642.83" stroke="#ffa500" stroke-width="0.92" stroke-dasharray="2.78 1.21" fill="none"/>
<text transform="translate(646.9 611.71) rotate(0.03) scale(0.847 1)" font-size="4.75" text-anchor="start" fill="#262626" stroke="#262626">Outliers</text>
<text transform="translate(646.9 618.71) rotate(0.03) scale(0.847 1)" font-size="4.75" text-anchor="start" fill="#262626" stroke="#262626">Winsorization Lower Bound</text>
<path d="M709.2 610H716.6" stroke="#800080" stroke-width="0.92" stroke-dasharray="2.78 1.21" fill="none"/>
<text transform="translate(720.6 611.71) rotate(0.03) scale(0.847 1)" font-size="4.75" text-anchor="start" fill="#262626" stroke="#262626">Winsorization Upper Bound</text>
<text x="674.8" y="649.8" class="cap" font-size="20" text-anchor="middle" fill="#000" font-family='"Liberation Serif","DejaVu Serif",serif'>(i)</text>
</g>
<g id="panel-j">
<clipPath id="cj"><rect x="45.5" y="685.8" width="180.3" height="112.4"/></clipPath>
<g clip-path="url(#cj)">
<path d="M66.25 792.6V763.46H69.26V740.6H72.28V764.31H75.29V763.46H78.31V752.6H81.33V751.46H84.34V741.74H87.36V717.74H90.37V713.46H93.39V716.89H96.41V711.74H99.42V704.6H102.44V691.74H105.46V695.46H108.47V712.26H111.49V720.6H114.5V721.74H117.52V729.34H120.54V751.11H123.55V742.31H126.57V756.03H129.59V769.46H132.6V770.54H135.62V782.6H138.63V781.74H141.65V786.31H144.67V789.17H147.68V788.03H150.7V790.03H153.71V790.89H156.73V791.46H159.75V792.6Z" fill="#0000ff" fill-opacity=".5"/>
<path d="M66.25 792.6V775.07H67.97V770.69H69.69V760.18H71.41V766.97H73.13V775.12H74.85V778.01H76.57V774.65H78.29V768.07H80.01V771.5H81.73V766.26H83.45V767.4H85.17V763.96H86.89V752.08H88.61V747.79H90.33V744.63H92.05V750.47H93.77V749.59H95.49V752.24H97.21V749.18H98.93V743.69H100.65V747.96H102.37V737.61H104.09V730.84H105.81V718.97H107.53V742.43H109.25V752.29H110.97V747.49H112.69V755.8H114.41V755.5H116.13V750.5H117.86V757.06H119.58V761.58H121.3V768.27H123.02V765.51H124.74V764.48H126.46V773.16H128.18V774.94H129.9V780.42H131.62V780.52H133.34V780.6H135.06V783.85H136.78V787.32H138.5V787.04H140.22V787.19H141.94V789.36H143.66V789.44H145.38V790.41H147.1V790.05H148.82V789.69H150.54V781.74H152.26V792.6Z" fill="#008000" fill-opacity=".5"/>
<path d="M52.81 798.2V685.8" stroke="#ffa500" stroke-width="1.00" stroke-dasharray="3.32 1.47" fill="none"/>
<path d="M152.26 798.2V685.8" stroke="#800080" stroke-width="1.00" stroke-dasharray="3.32 1.47" fill="none"/>
<path d="M151.3 791.13l2.64 2.93m-2.64 0l2.64 -2.93M152.31 791.13l2.64 2.93m-2.64 0l2.64 -2.93M153.33 791.13l2.64 2.93m-2.64 0l2.64 -2.93M154.35 791.13l2.64 2.93m-2.64 0l2.64 -2.93M155.37 791.13l2.64 2.93m-2.64 0l2.64 -2.93M156.39 791.13l2.64 2.93m-2.64 0l2.64 -2.93M157.41 791.13l2.64 2.93m-2.64 0l2.64 -2.93M158.43 791.13l2.64 2.93m-2.64 0l2.64 -2.93M161.63 791.13l2.64 2.93m-2.64 0l2.64 -2.93M165.28 791.13l2.64 2.93m-2.64 0l2.64 -2.93M171.86 791.13l2.64 2.93m-2.64 0l2.64 -2.93M174.6 791.13l2.64 2.93m-2.64 0l2.64 -2.93M180.09 791.13l2.64 2.93m-2.64 0l2.64 -2.93M183.79 791.13l2.64 2.93m-2.64 0l2.64 -2.93M187.49 791.13l2.64 2.93m-2.64 0l2.64 -2.93M212.85 791.13l2.64 2.93m-2.64 0l2.64 -2.93M216.28 791.13l2.64 2.93m-2.64 0l2.64 -2.93" stroke="#ff0000" stroke-width="1.00" fill="none"/>
</g>
<path d="M45.5 685.8H225.8V798.2H45.5Z" stroke="#000" stroke-opacity=".5" stroke-width="1" fill="none"/>
<path d="M64.6 798.2v1.95M92.02 798.2v1.95M119.44 798.2v1.95M146.86 798.2v1.95M174.28 798.2v1.95M201.7 798.2v1.95M45.5 792.6h-1.82M45.5 778.31h-1.82M45.5 764.03h-1.82M45.5 749.74h-1.82M45.5 735.46h-1.82M45.5 721.17h-1.82M45.5 706.89h-1.82M45.5 692.6h-1.82" stroke="#000" stroke-opacity=".5" stroke-width=".55" fill="none"/>
<text transform="translate(64.6 807.36) rotate(0.03) scale(0.933 1)" font-size="5.64" text-anchor="middle" fill="#262626" stroke="#262626">0.0</text>
<text transform="translate(92.02 807.36) rotate(0.03) scale(0.933 1)" font-size="5.64" text-anchor="middle" fill="#262626" stroke="#262626">0.1</text>
<text transform="translate(119.44 807.36) rotate(0.03) scale(0.933 1)" font-size="5.64" text-anchor="middle" fill="#262626" stroke="#262626">0.2</text>
<text transform="translate(146.86 807.36) rotate(0.03) scale(0.933 1)" font-size="5.64" text-anchor="middle" fill="#262626" stroke="#262626">0.3</text>
<text transform="translate(174.28 807.36) rotate(0.03) scale(0.933 1)" font-size="5.64" text-anchor="middle" fill="#262626" stroke="#262626">0.4</text>
<text transform="translate(201.7 807.36) rotate(0.03) scale(0.933 1)" font-size="5.64" text-anchor="middle" fill="#262626" stroke="#262626">0.5</text>
<text transform="translate(41.58 794.63) rotate(0.03) scale(0.933 1)" font-size="5.64" text-anchor="end" fill="#262626" stroke="#262626">0</text>
<text transform="translate(41.58 780.34) rotate(0.03) scale(0.933 1)" font-size="5.64" text-anchor="end" fill="#262626" stroke="#262626">25</text>
<text transform="translate(41.58 766.06) rotate(0.03) scale(0.933 1)" font-size="5.64" text-anchor="end" fill="#262626" stroke="#262626">50</text>
<text transform="translate(41.58 751.77) rotate(0.03) scale(0.933 1)" font-size="5.64" text-anchor="end" fill="#262626" stroke="#262626">75</text>
<text transform="translate(41.58 737.49) rotate(0.03) scale(0.933 1)" font-size="5.64" text-anchor="end" fill="#262626" stroke="#262626">100</text>
<text transform="translate(41.58 723.2) rotate(0.03) scale(0.933 1)" font-size="5.64" text-anchor="end" fill="#262626" stroke="#262626">125</text>
<text transform="translate(41.58 708.92) rotate(0.03) scale(0.933 1)" font-size="5.64" text-anchor="end" fill="#262626" stroke="#262626">150</text>
<text transform="translate(41.58 694.63) rotate(0.03) scale(0.933 1)" font-size="5.64" text-anchor="end" fill="#262626" stroke="#262626">175</text>
<text transform="translate(135.65 815.47) rotate(0.03) scale(0.933 1)" font-size="5.64" text-anchor="middle" fill="#262626" stroke="#262626">NPHI</text>
<text transform="translate(27.99 742.98) rotate(-89.97) scale(1.072 1)" font-size="5.26" text-anchor="middle" fill="#262626" stroke="#262626">Frequency</text>
<text transform="translate(135.65 681.93) rotate(0.03) scale(0.933 1)" font-size="6.74" text-anchor="middle" fill="#262626" stroke="#262626">NPHI Data</text>
<text transform="translate(216 698.73) rotate(0.03) scale(0.933 1)" font-size="5.64" text-anchor="end" fill="#ff0000" stroke="#ff0000">Outliers before: 20</text>
<text transform="translate(216 704.63) rotate(0.03) scale(0.933 1)" font-size="5.64" text-anchor="end" fill="#008000" stroke="#008000">Outliers after: 0</text>
<text transform="translate(216 709.93) rotate(0.03) scale(0.933 1)" font-size="5.64" text-anchor="end" fill="#262626" stroke="#262626">Elapsed time: 0.0075 sec</text>
<rect x="32.2" y="817" width="205.2" height="14.5" rx=".8" fill="#fff" stroke="#d2d2d2" stroke-width=".75"/>
<rect x="34" y="819.09" width="8.7" height="3.22" fill="#0000ff" fill-opacity=".5"/>
<rect x="34" y="825.59" width="8.7" height="3.22" fill="#008000" fill-opacity=".5"/>
<text transform="translate(45.9 822.33) rotate(0.03) scale(0.933 1)" font-size="4.53" text-anchor="start" fill="#262626" stroke="#262626">Original Data</text>
<text transform="translate(45.9 828.83) rotate(0.03) scale(0.933 1)" font-size="4.53" text-anchor="start" fill="#262626" stroke="#262626">Winsorized Data</text>
<path d="M91.59 819.19l2.83 3.03m-2.83 0l2.83 -3.03" stroke="#ff0000" stroke-width="0.87" fill="none"/>
<path d="M89.08 827.2H96.92" stroke="#ffa500" stroke-width="0.88" stroke-dasharray="2.92 1.28" fill="none"/>
<text transform="translate(101 822.33) rotate(0.03) scale(0.933 1)" font-size="4.53" text-anchor="start" fill="#262626" stroke="#262626">Outliers</text>
<text transform="translate(101 828.83) rotate(0.03) scale(0.933 1)" font-size="4.53" text-anchor="start" fill="#262626" stroke="#262626">Winsorization Lower Bound</text>
<path d="M166.6 820.7H173.4" stroke="#800080" stroke-width="0.88" stroke-dasharray="2.92 1.28" fill="none"/>
<text transform="translate(178.6 822.33) rotate(0.03) scale(0.933 1)" font-size="4.53" text-anchor="start" fill="#262626" stroke="#262626">Winsorization Upper Bound</text>
<text x="130.4" y="864.8" class="cap" font-size="20" text-anchor="middle" fill="#000" font-family='"Liberation Serif","DejaVu Serif",serif'>(j)</text>
</g>
<g id="panel-k">
<clipPath id="ck"><rect x="321.4" y="684.8" width="184.4" height="113.7"/></clipPath>
<g clip-path="url(#ck)">
<path d="M378.44 798.4V790.86H380.08V772.95H381.73V739.66H383.37V711.27H385.01V704.42H386.66V690.71H388.3V697.95H389.95V736.72H391.59V728.89H393.23V720.47H394.88V701.48H396.52V720.47H398.16V744.07H399.81V738.88H401.45V756.79H403.1V751.6H404.74V765.51H406.38V769.52H408.03V761.39H409.67V768.34H411.31V768.34H412.96V781.07H414.6V763.16H416.25V773.53H417.89V781.76H419.53V768.34H421.18V773.53H422.82V772.46H424.46V769.52H426.11V747H427.75V730.26H429.4V727.32H431.04V722.72H432.68V724.49H434.33V695.21H435.97V702.46H437.61V717.53H439.26V720.47H440.9V737.21H442.55V734.76H444.19V765.51H445.83V767.17H447.48V778.23H449.12V788.61H450.77V785.09H452.41V792.04H454.05V794.48H455.7V797.42H457.34V795.46H458.98V797.42H460.63V798.4Z" fill="#0000ff" fill-opacity=".5"/>
<path d="M378.44 798.4V790.86H380.08V772.95H381.73V739.66H383.37V711.27H385.01V704.42H386.66V690.71H388.3V697.95H389.95V736.72H391.59V728.89H393.23V720.47H394.88V701.48H396.52V720.47H398.16V744.07H399.81V738.88H401.45V756.79H403.1V751.6H404.74V765.51H406.38V769.52H408.03V761.39H409.67V768.34H411.31V768.34H412.96V781.07H414.6V763.16H416.25V773.53H417.89V781.76H419.53V768.34H421.18V773.53H422.82V772.46H424.46V769.52H426.11V747H427.75V730.26H429.4V727.32H431.04V722.72H432.68V724.49H434.33V695.21H435.97V702.46H437.61V717.53H439.26V720.47H440.9V737.21H442.55V734.76H444.19V765.51H445.83V767.17H447.48V778.23H449.12V788.61H450.77V785.09H452.41V792.04H454.05V794.48H455.7V797.42H457.34V795.46H458.98V797.42H460.63V798.4Z" fill="#008000" fill-opacity=".5"/>
<path d="M329.43 798.5V684.8" stroke="#ffa500" stroke-width="1.03" stroke-dasharray="3.36 1.48" fill="none"/>
<path d="M496.84 798.5V684.8" stroke="#800080" stroke-width="1.03" stroke-dasharray="3.36 1.48" fill="none"/>
</g>
<path d="M321.4 684.8H505.8V798.5H321.4Z" stroke="#000" stroke-opacity=".5" stroke-width="1" fill="none"/>
<path d="M334.2 798.5v1.98M355.89 798.5v1.98M377.57 798.5v1.98M399.26 798.5v1.98M420.94 798.5v1.98M442.63 798.5v1.98M464.31 798.5v1.98M486 798.5v1.98M321.4 798.4h-1.86M321.4 778.82h-1.86M321.4 759.24h-1.86M321.4 739.66h-1.86M321.4 720.08h-1.86M321.4 700.5h-1.86" stroke="#000" stroke-opacity=".5" stroke-width=".55" fill="none"/>
<text transform="translate(334.2 807.77) rotate(0.03) scale(0.943 1)" font-size="5.71" text-anchor="middle" fill="#262626" stroke="#262626">0</text>
<text transform="translate(355.89 807.77) rotate(0.03) scale(0.943 1)" font-size="5.71" text-anchor="middle" fill="#262626" stroke="#262626">1</text>
<text transform="translate(377.57 807.77) rotate(0.03) scale(0.943 1)" font-size="5.71" text-anchor="middle" fill="#262626" stroke="#262626">2</text>
<text transform="translate(399.26 807.77) rotate(0.03) scale(0.943 1)" font-size="5.71" text-anchor="middle" fill="#262626" stroke="#262626">3</text>
<text transform="translate(420.94 807.77) rotate(0.03) scale(0.943 1)" font-size="5.71" text-anchor="middle" fill="#262626" stroke="#262626">4</text>
<text transform="translate(442.63 807.77) rotate(0.03) scale(0.943 1)" font-size="5.71" text-anchor="middle" fill="#262626" stroke="#262626">5</text>
<text transform="translate(464.31 807.77) rotate(0.03) scale(0.943 1)" font-size="5.71" text-anchor="middle" fill="#262626" stroke="#262626">6</text>
<text transform="translate(486 807.77) rotate(0.03) scale(0.943 1)" font-size="5.71" text-anchor="middle" fill="#262626" stroke="#262626">7</text>
<text transform="translate(317.39 800.45) rotate(0.03) scale(0.943 1)" font-size="5.71" text-anchor="end" fill="#262626" stroke="#262626">0</text>
<text transform="translate(317.39 780.87) rotate(0.03) scale(0.943 1)" font-size="5.71" text-anchor="end" fill="#262626" stroke="#262626">20</text>
<text transform="translate(317.39 761.29) rotate(0.03) scale(0.943 1)" font-size="5.71" text-anchor="end" fill="#262626" stroke="#262626">40</text>
<text transform="translate(317.39 741.71) rotate(0.03) scale(0.943 1)" font-size="5.71" text-anchor="end" fill="#262626" stroke="#262626">60</text>
<text transform="translate(317.39 722.13) rotate(0.03) scale(0.943 1)" font-size="5.71" text-anchor="end" fill="#262626" stroke="#262626">80</text>
<text transform="translate(317.39 702.55) rotate(0.03) scale(0.943 1)" font-size="5.71" text-anchor="end" fill="#262626" stroke="#262626">100</text>
<text transform="translate(413.6 815.98) rotate(0.03) scale(0.943 1)" font-size="5.71" text-anchor="middle" fill="#262626" stroke="#262626">PEF</text>
<text transform="translate(304.34 742.64) rotate(-89.97) scale(1.061 1)" font-size="5.38" text-anchor="middle" fill="#262626" stroke="#262626">Frequency</text>
<text transform="translate(413.6 681.46) rotate(0.03) scale(0.943 1)" font-size="6.82" text-anchor="middle" fill="#262626" stroke="#262626">PEF Data</text>
<text transform="translate(496.5 697.75) rotate(0.03) scale(0.943 1)" font-size="5.71" text-anchor="end" fill="#ff0000" stroke="#ff0000">Outliers before: 0</text>
<text transform="translate(496.5 703.85) rotate(0.03) scale(0.943 1)" font-size="5.71" text-anchor="end" fill="#008000" stroke="#008000">Outliers after: 0</text>
<text transform="translate(496.5 709.65) rotate(0.03) scale(0.943 1)" font-size="5.71" text-anchor="end" fill="#262626" stroke="#262626">Elapsed time: 0.0095 sec</text>
<rect x="308.3" y="817.8" width="209.9" height="14.4" rx=".8" fill="#fff" stroke="#d2d2d2" stroke-width=".75"/>
<rect x="310.7" y="819.87" width="8.3" height="3.26" fill="#0000ff" fill-opacity=".5"/>
<rect x="310.7" y="826.47" width="8.3" height="3.26" fill="#008000" fill-opacity=".5"/>
<text transform="translate(322.7 823.15) rotate(0.03) scale(0.943 1)" font-size="4.59" text-anchor="start" fill="#262626" stroke="#262626">Original Data</text>
<text transform="translate(322.7 829.75) rotate(0.03) scale(0.943 1)" font-size="4.59" text-anchor="start" fill="#262626" stroke="#262626">Winsorized Data</text>
<path d="M369.35 819.97l2.89 3.07m-2.89 0l2.89 -3.07" stroke="#ff0000" stroke-width="0.89" fill="none"/>
<path d="M366.79 828.1H374.81" stroke="#ffa500" stroke-width="0.89" stroke-dasharray="2.98 1.31" fill="none"/>
<text transform="translate(378.8 823.15) rotate(0.03) scale(0.943 1)" font-size="4.59" text-anchor="start" fill="#262626" stroke="#262626">Outliers</text>
<text transform="translate(378.8 829.75) rotate(0.03) scale(0.943 1)" font-size="4.59" text-anchor="start" fill="#262626" stroke="#262626">Winsorization Lower Bound</text>
<path d="M446 821.5H453.1" stroke="#800080" stroke-width="0.89" stroke-dasharray="2.98 1.31" fill="none"/>
<text transform="translate(458.3 823.15) rotate(0.03) scale(0.943 1)" font-size="4.59" text-anchor="start" fill="#262626" stroke="#262626">Winsorization Upper Bound</text>
<text x="408.7" y="864.8" class="cap" font-size="20" text-anchor="middle" fill="#000" font-family='"Liberation Serif","DejaVu Serif",serif'>(k)</text>
</g>
<g id="panel-l">
<clipPath id="cl"><rect x="592" y="685.8" width="171.2" height="111.3"/></clipPath>
<g clip-path="url(#cl)">
<path d="M633.65 791.9V789.66H636.77V788.99H639.89V785.41H643.01V784.29H646.13V782.28H649.24V782.28H652.36V778.7H655.48V761.02H658.6V730.37H661.71V691.21H664.83V704.41H667.95V719.4H671.07V731.71H674.18V752.16H677.3V769.75H680.42V790.56H683.54V791.45H686.65V791.9Z" fill="#0000ff" fill-opacity=".5"/>
<path d="M646.59 791.9V759.01H647.35V789.1H648.12V789.07H648.88V789.33H649.64V789.39H650.4V789.43H651.16V789.49H651.92V789.03H652.68V788.5H653.45V788.03H654.21V788.51H654.97V787.01H655.73V782.73H656.49V782.75H657.25V784.13H658.01V781.85H658.77V773.43H659.54V775.44H660.3V774.64H661.06V772.86H661.82V763.55H662.58V766.81H663.34V763.13H664.1V762.81H664.87V768.22H665.63V768.71H666.39V766.91H667.15V765.63H667.91V770.1H668.67V773.26H669.43V771.04H670.19V772.11H670.96V773.3H671.72V773.89H672.48V775.49H673.24V774.11H674V778.76H674.76V781.88H675.52V781.24H676.28V780.06H677.05V784.64H677.81V785.92H678.57V785.69H679.33V786.02H680.09V788.93H680.85V791.56H681.61V791.53H682.38V791.53H683.14V791.67H683.9V791.77H684.66V791.9Z" fill="#008000" fill-opacity=".5"/>
<path d="M646.59 797.1V685.8" stroke="#ffa500" stroke-width="0.95" stroke-dasharray="3.29 1.45" fill="none"/>
<path d="M684.66 797.1V685.8" stroke="#800080" stroke-width="0.95" stroke-dasharray="3.29 1.45" fill="none"/>
<path d="M598.78 790.45l2.5 2.9m-2.5 0l2.5 -2.9M601.66 790.45l2.5 2.9m-2.5 0l2.5 -2.9M604.26 790.45l2.5 2.9m-2.5 0l2.5 -2.9M606.74 790.45l2.5 2.9m-2.5 0l2.5 -2.9M609.35 790.45l2.5 2.9m-2.5 0l2.5 -2.9M611.96 790.45l2.5 2.9m-2.5 0l2.5 -2.9M615.77 790.45l2.5 2.9m-2.5 0l2.5 -2.9M618.38 790.45l2.5 2.9m-2.5 0l2.5 -2.9M620.86 790.45l2.5 2.9m-2.5 0l2.5 -2.9M622.86 790.45l2.5 2.9m-2.5 0l2.5 -2.9M623.16 790.45l2.5 2.9m-2.5 0l2.5 -2.9M623.46 790.45l2.5 2.9m-2.5 0l2.5 -2.9M623.77 790.45l2.5 2.9m-2.5 0l2.5 -2.9M624.07 790.45l2.5 2.9m-2.5 0l2.5 -2.9M624.37 790.45l2.5 2.9m-2.5 0l2.5 -2.9M624.67 790.45l2.5 2.9m-2.5 0l2.5 -2.9M624.97 790.45l2.5 2.9m-2.5 0l2.5 -2.9M625.27 790.45l2.5 2.9m-2.5 0l2.5 -2.9M625.57 790.45l2.5 2.9m-2.5 0l2.5 -2.9M625.87 790.45l2.5 2.9m-2.5 0l2.5 -2.9M626.17 790.45l2.5 2.9m-2.5 0l2.5 -2.9M626.48 790.45l2.5 2.9m-2.5 0l2.5 -2.9M626.78 790.45l2.5 2.9m-2.5 0l2.5 -2.9M627.08 790.45l2.5 2.9m-2.5 0l2.5 -2.9M627.38 790.45l2.5 2.9m-2.5 0l2.5 -2.9M627.68 790.45l2.5 2.9m-2.5 0l2.5 -2.9M627.98 790.45l2.5 2.9m-2.5 0l2.5 -2.9M628.28 790.45l2.5 2.9m-2.5 0l2.5 -2.9M628.58 790.45l2.5 2.9m-2.5 0l2.5 -2.9M628.88 790.45l2.5 2.9m-2.5 0l2.5 -2.9M629.18 790.45l2.5 2.9m-2.5 0l2.5 -2.9M629.49 790.45l2.5 2.9m-2.5 0l2.5 -2.9M629.79 790.45l2.5 2.9m-2.5 0l2.5 -2.9M630.09 790.45l2.5 2.9m-2.5 0l2.5 -2.9M630.39 790.45l2.5 2.9m-2.5 0l2.5 -2.9M630.69 790.45l2.5 2.9m-2.5 0l2.5 -2.9M630.99 790.45l2.5 2.9m-2.5 0l2.5 -2.9M631.29 790.45l2.5 2.9m-2.5 0l2.5 -2.9M631.59 790.45l2.5 2.9m-2.5 0l2.5 -2.9M631.89 790.45l2.5 2.9m-2.5 0l2.5 -2.9M632.2 790.45l2.5 2.9m-2.5 0l2.5 -2.9M632.5 790.45l2.5 2.9m-2.5 0l2.5 -2.9M632.8 790.45l2.5 2.9m-2.5 0l2.5 -2.9M633.1 790.45l2.5 2.9m-2.5 0l2.5 -2.9M633.4 790.45l2.5 2.9m-2.5 0l2.5 -2.9M633.7 790.45l2.5 2.9m-2.5 0l2.5 -2.9M634 790.45l2.5 2.9m-2.5 0l2.5 -2.9M634.3 790.45l2.5 2.9m-2.5 0l2.5 -2.9M634.6 790.45l2.5 2.9m-2.5 0l2.5 -2.9M634.9 790.45l2.5 2.9m-2.5 0l2.5 -2.9M635.21 790.45l2.5 2.9m-2.5 0l2.5 -2.9M635.51 790.45l2.5 2.9m-2.5 0l2.5 -2.9M635.81 790.45l2.5 2.9m-2.5 0l2.5 -2.9M636.11 790.45l2.5 2.9m-2.5 0l2.5 -2.9M636.41 790.45l2.5 2.9m-2.5 0l2.5 -2.9M636.71 790.45l2.5 2.9m-2.5 0l2.5 -2.9M637.01 790.45l2.5 2.9m-2.5 0l2.5 -2.9M637.31 790.45l2.5 2.9m-2.5 0l2.5 -2.9M637.61 790.45l2.5 2.9m-2.5 0l2.5 -2.9M637.92 790.45l2.5 2.9m-2.5 0l2.5 -2.9M638.22 790.45l2.5 2.9m-2.5 0l2.5 -2.9M638.52 790.45l2.5 2.9m-2.5 0l2.5 -2.9M638.82 790.45l2.5 2.9m-2.5 0l2.5 -2.9M639.12 790.45l2.5 2.9m-2.5 0l2.5 -2.9M639.42 790.45l2.5 2.9m-2.5 0l2.5 -2.9M639.72 790.45l2.5 2.9m-2.5 0l2.5 -2.9M640.02 790.45l2.5 2.9m-2.5 0l2.5 -2.9M640.32 790.45l2.5 2.9m-2.5 0l2.5 -2.9M640.62 790.45l2.5 2.9m-2.5 0l2.5 -2.9M640.93 790.45l2.5 2.9m-2.5 0l2.5 -2.9M641.23 790.45l2.5 2.9m-2.5 0l2.5 -2.9M641.53 790.45l2.5 2.9m-2.5 0l2.5 -2.9M641.83 790.45l2.5 2.9m-2.5 0l2.5 -2.9M642.13 790.45l2.5 2.9m-2.5 0l2.5 -2.9M642.43 790.45l2.5 2.9m-2.5 0l2.5 -2.9M642.73 790.45l2.5 2.9m-2.5 0l2.5 -2.9M643.03 790.45l2.5 2.9m-2.5 0l2.5 -2.9M643.33 790.45l2.5 2.9m-2.5 0l2.5 -2.9M643.64 790.45l2.5 2.9m-2.5 0l2.5 -2.9M643.94 790.45l2.5 2.9m-2.5 0l2.5 -2.9M644.24 790.45l2.5 2.9m-2.5 0l2.5 -2.9M644.54 790.45l2.5 2.9m-2.5 0l2.5 -2.9M644.84 790.45l2.5 2.9m-2.5 0l2.5 -2.9M645.14 790.45l2.5 2.9m-2.5 0l2.5 -2.9M712.51 790.45l2.5 2.9m-2.5 0l2.5 -2.9M748.63 790.45l2.5 2.9m-2.5 0l2.5 -2.9M751.98 790.45l2.5 2.9m-2.5 0l2.5 -2.9M753.99 790.45l2.5 2.9m-2.5 0l2.5 -2.9" stroke="#ff0000" stroke-width="0.95" fill="none"/>
</g>
<path d="M592 685.8H763.2V797.1H592Z" stroke="#000" stroke-opacity=".5" stroke-width="1" fill="none"/>
<path d="M600.7 797.1v1.94M634.15 797.1v1.94M667.6 797.1v1.94M701.05 797.1v1.94M734.5 797.1v1.94M592 791.9h-1.73M592 769.52h-1.73M592 747.15h-1.73M592 724.77h-1.73M592 702.4h-1.73" stroke="#000" stroke-opacity=".5" stroke-width=".55" fill="none"/>
<text transform="translate(600.7 806.18) rotate(0.03) scale(0.892 1)" font-size="5.59" text-anchor="middle" fill="#262626" stroke="#262626">1.5</text>
<text transform="translate(634.15 806.18) rotate(0.03) scale(0.892 1)" font-size="5.59" text-anchor="middle" fill="#262626" stroke="#262626">2.0</text>
<text transform="translate(667.6 806.18) rotate(0.03) scale(0.892 1)" font-size="5.59" text-anchor="middle" fill="#262626" stroke="#262626">2.5</text>
<text transform="translate(701.05 806.18) rotate(0.03) scale(0.892 1)" font-size="5.59" text-anchor="middle" fill="#262626" stroke="#262626">3.0</text>
<text transform="translate(734.5 806.18) rotate(0.03) scale(0.892 1)" font-size="5.59" text-anchor="middle" fill="#262626" stroke="#262626">3.5</text>
<text transform="translate(588.29 793.91) rotate(0.03) scale(0.892 1)" font-size="5.59" text-anchor="end" fill="#262626" stroke="#262626">0</text>
<text transform="translate(588.29 771.54) rotate(0.03) scale(0.892 1)" font-size="5.59" text-anchor="end" fill="#262626" stroke="#262626">100</text>
<text transform="translate(588.29 749.16) rotate(0.03) scale(0.892 1)" font-size="5.59" text-anchor="end" fill="#262626" stroke="#262626">200</text>
<text transform="translate(588.29 726.79) rotate(0.03) scale(0.892 1)" font-size="5.59" text-anchor="end" fill="#262626" stroke="#262626">300</text>
<text transform="translate(588.29 704.41) rotate(0.03) scale(0.892 1)" font-size="5.59" text-anchor="end" fill="#262626" stroke="#262626">400</text>
<text transform="translate(677.6 814.21) rotate(0.03) scale(0.892 1)" font-size="5.59" text-anchor="middle" fill="#262626" stroke="#262626">RHOB</text>
<text transform="translate(575.79 742.42) rotate(-89.97) scale(1.121 1)" font-size="4.98" text-anchor="middle" fill="#262626" stroke="#262626">Frequency</text>
<text transform="translate(677.6 681.9) rotate(0.03) scale(0.892 1)" font-size="6.68" text-anchor="middle" fill="#262626" stroke="#262626">RHOB Data</text>
<text transform="translate(754.1 698.31) rotate(0.03) scale(0.892 1)" font-size="5.59" text-anchor="end" fill="#ff0000" stroke="#ff0000">Outliers before: 147</text>
<text transform="translate(754.1 704.21) rotate(0.03) scale(0.892 1)" font-size="5.59" text-anchor="end" fill="#008000" stroke="#008000">Outliers after: 0</text>
<text transform="translate(754.1 709.81) rotate(0.03) scale(0.892 1)" font-size="5.59" text-anchor="end" fill="#262626" stroke="#262626">Elapsed time: 0.0096 sec</text>
<rect x="580" y="815.9" width="194.4" height="14.8" rx=".8" fill="#fff" stroke="#d2d2d2" stroke-width=".75"/>
<rect x="582.2" y="818.2" width="7.6" height="3.19" fill="#0000ff" fill-opacity=".5"/>
<rect x="582.2" y="824.9" width="7.6" height="3.19" fill="#008000" fill-opacity=".5"/>
<text transform="translate(592.9 821.42) rotate(0.03) scale(0.892 1)" font-size="4.49" text-anchor="start" fill="#262626" stroke="#262626">Original Data</text>
<text transform="translate(592.9 828.12) rotate(0.03) scale(0.892 1)" font-size="4.49" text-anchor="start" fill="#262626" stroke="#262626">Winsorized Data</text>
<path d="M636.36 818.3l2.68 3m-2.68 0l2.68 -3" stroke="#ff0000" stroke-width="0.82" fill="none"/>
<path d="M633.99 826.5H641.41" stroke="#ffa500" stroke-width="0.87" stroke-dasharray="2.76 1.21" fill="none"/>
<text transform="translate(645.1 821.42) rotate(0.03) scale(0.892 1)" font-size="4.49" text-anchor="start" fill="#262626" stroke="#262626">Outliers</text>
<text transform="translate(645.1 828.12) rotate(0.03) scale(0.892 1)" font-size="4.49" text-anchor="start" fill="#262626" stroke="#262626">Winsorization Lower Bound</text>
<path d="M707.7 819.8H714.2" stroke="#800080" stroke-width="0.87" stroke-dasharray="2.76 1.21" fill="none"/>
<text transform="translate(718.4 821.42) rotate(0.03) scale(0.892 1)" font-size="4.49" text-anchor="start" fill="#262626" stroke="#262626">Winsorization Upper Bound</text>
<text x="673.4" y="864.8" class="cap" font-size="20" text-anchor="middle" fill="#000" font-family='"Liberation Serif","DejaVu Serif",serif'>(l)</text>
</g>
<g id="panel-m">
<clipPath id="cm"><rect x="313.5" y="888.6" width="200" height="141.7"/></clipPath>
<g clip-path="url(#cm)">
<path d="M358.83 1030.1V1026.42H361.22V1012.94H363.62V998.22H366.01V993.32H368.4V988.42H370.79V981.06H373.18V966.35H375.57V969.41H377.97V993.32H380.36V983.51H382.75V938.15H385.14V929.57H387.53V895.73H389.92V933.25H392.32V920.13H394.71V958.99H397.1V943.42H399.49V949.18H401.88V989.64H404.27V937.41H406.67V951.02H409.06V911.42H411.45V902.6H413.84V941.83H416.23V920.13H418.62V941.83H421.02V928.59H423.41V962.3H425.8V976.65H428.19V982.41H430.58V1003.13H432.97V999.7H435.37V983.88H437.76V971.87H440.15V961.69H442.54V958.99H444.93V957.03H447.33V947.47H449.72V969.05H452.11V967.21H454.5V985.72H456.89V993.07H459.28V1008.89H461.68V1025.44H464.07V1004.35H466.46V955.31H468.85V1028.87H471.24V1022.13H473.63V1017.47H476.03V1028.87H478.42V1030.1Z" fill="#0000ff" fill-opacity=".5"/>
<path d="M358.83 1030.1V1026.42H361.22V1012.94H363.62V998.22H366.01V993.32H368.4V988.42H370.79V981.06H373.18V966.35H375.57V969.41H377.97V993.32H380.36V983.51H382.75V938.15H385.14V929.57H387.53V895.73H389.92V933.25H392.32V920.13H394.71V958.99H397.1V943.42H399.49V949.18H401.88V989.64H404.27V937.41H406.67V951.02H409.06V911.42H411.45V902.6H413.84V941.83H416.23V920.13H418.62V941.83H421.02V928.59H423.41V962.3H425.8V976.65H428.19V982.41H430.58V1003.13H432.97V999.7H435.37V983.88H437.76V971.87H440.15V961.69H442.54V958.99H444.93V957.03H447.33V947.47H449.72V969.05H452.11V967.21H454.5V985.72H456.89V993.07H459.28V1008.89H461.68V1025.44H464.07V1004.35H466.46V955.31H468.85V1028.87H471.24V1022.13H473.63V1017.47H476.03V1028.87H478.42V1030.1Z" fill="#008000" fill-opacity=".5"/>
<path d="M322.77 1030.3V888.6" stroke="#ffa500" stroke-width="1.11" stroke-dasharray="4.19 1.85" fill="none"/>
<path d="M504.06 1030.3V888.6" stroke="#800080" stroke-width="1.11" stroke-dasharray="4.19 1.85" fill="none"/>
</g>
<path d="M313.5 888.6H513.5V1030.3H313.5Z" stroke="#000" stroke-opacity=".5" stroke-width="1" fill="none"/>
<path d="M341.2 1030.3v2.46M381.27 1030.3v2.46M421.35 1030.3v2.46M461.43 1030.3v2.46M501.5 1030.3v2.46M313.5 1030.1h-2.02M313.5 1005.58h-2.02M313.5 981.06h-2.02M313.5 956.54h-2.02M313.5 932.02h-2.02M313.5 907.5h-2.02" stroke="#000" stroke-opacity=".5" stroke-width=".55" fill="none"/>
<text transform="translate(341.2 1041.85) rotate(0.03) scale(0.818 1)" font-size="7.11" text-anchor="middle" fill="#262626" stroke="#262626">−55</text>
<text transform="translate(381.27 1041.85) rotate(0.03) scale(0.818 1)" font-size="7.11" text-anchor="middle" fill="#262626" stroke="#262626">−50</text>
<text transform="translate(421.35 1041.85) rotate(0.03) scale(0.818 1)" font-size="7.11" text-anchor="middle" fill="#262626" stroke="#262626">−45</text>
<text transform="translate(461.43 1041.85) rotate(0.03) scale(0.818 1)" font-size="7.11" text-anchor="middle" fill="#262626" stroke="#262626">−40</text>
<text transform="translate(501.5 1041.85) rotate(0.03) scale(0.818 1)" font-size="7.11" text-anchor="middle" fill="#262626" stroke="#262626">−35</text>
<text transform="translate(309.17 1032.66) rotate(0.03) scale(0.818 1)" font-size="7.11" text-anchor="end" fill="#262626" stroke="#262626">0</text>
<text transform="translate(309.17 1008.14) rotate(0.03) scale(0.818 1)" font-size="7.11" text-anchor="end" fill="#262626" stroke="#262626">20</text>
<text transform="translate(309.17 983.62) rotate(0.03) scale(0.818 1)" font-size="7.11" text-anchor="end" fill="#262626" stroke="#262626">40</text>
<text transform="translate(309.17 959.1) rotate(0.03) scale(0.818 1)" font-size="7.11" text-anchor="end" fill="#262626" stroke="#262626">60</text>
<text transform="translate(309.17 934.58) rotate(0.03) scale(0.818 1)" font-size="7.11" text-anchor="end" fill="#262626" stroke="#262626">80</text>
<text transform="translate(309.17 910.06) rotate(0.03) scale(0.818 1)" font-size="7.11" text-anchor="end" fill="#262626" stroke="#262626">100</text>
<text transform="translate(413.5 1052.08) rotate(0.03) scale(0.818 1)" font-size="7.11" text-anchor="middle" fill="#262626" stroke="#262626">SP</text>
<text transform="translate(294.89 960.68) rotate(-89.97) scale(1.222 1)" font-size="5.82" text-anchor="middle" fill="#262626" stroke="#262626">Frequency</text>
<text transform="translate(413.5 883.96) rotate(0.03) scale(0.818 1)" font-size="8.5" text-anchor="middle" fill="#262626" stroke="#262626">SP Data</text>
<text transform="translate(503.2 904.56) rotate(0.03) scale(0.818 1)" font-size="7.11" text-anchor="end" fill="#ff0000" stroke="#ff0000">Outliers before: 0</text>
<text transform="translate(503.2 912.06) rotate(0.03) scale(0.818 1)" font-size="7.11" text-anchor="end" fill="#008000" stroke="#008000">Outliers after: 0</text>
<text transform="translate(503.2 919.26) rotate(0.03) scale(0.818 1)" font-size="7.11" text-anchor="end" fill="#262626" stroke="#262626">Elapsed time: 0.0067 sec</text>
<rect x="300.2" y="1054.1" width="227" height="18.2" rx=".8" fill="#fff" stroke="#d2d2d2" stroke-width=".75"/>
<rect x="302" y="1056.77" width="8.7" height="4.07" fill="#0000ff" fill-opacity=".5"/>
<rect x="302" y="1065.07" width="8.7" height="4.07" fill="#008000" fill-opacity=".5"/>
<text transform="translate(315 1060.86) rotate(0.03) scale(0.818 1)" font-size="5.72" text-anchor="start" fill="#262626" stroke="#262626">Original Data</text>
<text transform="translate(315 1069.16) rotate(0.03) scale(0.818 1)" font-size="5.72" text-anchor="start" fill="#262626" stroke="#262626">Winsorized Data</text>
<path d="M365.14 1056.89l3.12 3.82m-3.12 0l3.12 -3.82" stroke="#ff0000" stroke-width="0.96" fill="none"/>
<path d="M362.37 1067.1H371.03" stroke="#ffa500" stroke-width="1.11" stroke-dasharray="3.23 1.41" fill="none"/>
<text transform="translate(375.6 1060.86) rotate(0.03) scale(0.818 1)" font-size="5.72" text-anchor="start" fill="#262626" stroke="#262626">Outliers</text>
<text transform="translate(375.6 1069.16) rotate(0.03) scale(0.818 1)" font-size="5.72" text-anchor="start" fill="#262626" stroke="#262626">Winsorization Lower Bound</text>
<path d="M448.4 1058.8H456.4" stroke="#800080" stroke-width="1.11" stroke-dasharray="3.23 1.41" fill="none"/>
<text transform="translate(461 1060.86) rotate(0.03) scale(0.818 1)" font-size="5.72" text-anchor="start" fill="#262626" stroke="#262626">Winsorization Upper Bound</text>
<text x="409.2" y="1097.5" class="cap" font-size="20" text-anchor="middle" fill="#000" font-family='"Liberation Serif","DejaVu Serif",serif'>(m)</text>
</g>
</g>
</svg>
</body></html>
